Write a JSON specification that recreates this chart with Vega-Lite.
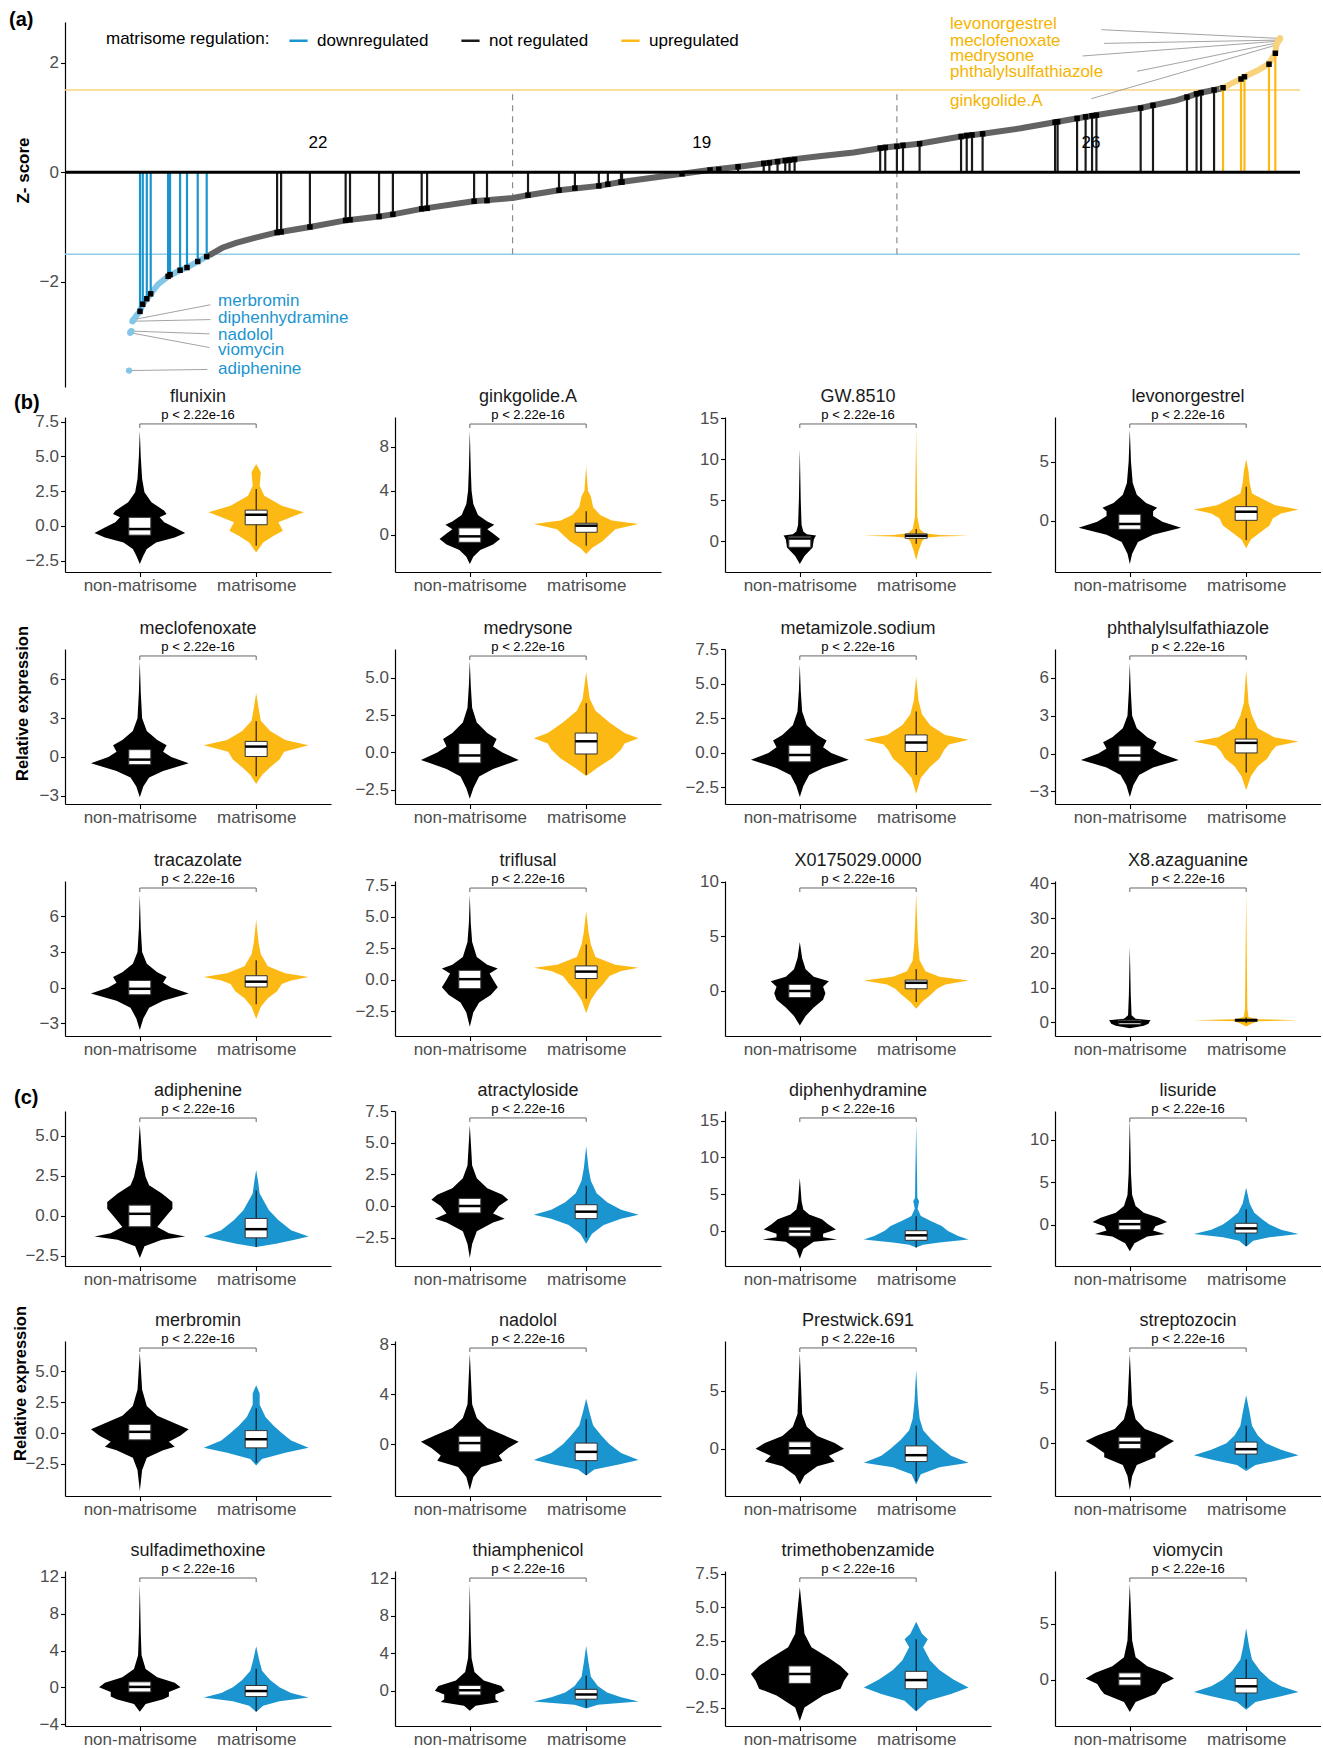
{
"$schema":"https://vega.github.io/schema/vega-lite/v6.json",
"padding":{"left":9,"top":10,"right":0,"bottom":0},
"config":{
 "font":"Liberation Sans",
 "view":{"stroke":null,"continuousWidth":266,"continuousHeight":155},
 "axis":{"grid":false,"domainColor":"#000","domainWidth":1.2,"tickColor":"#000","tickWidth":1.1,"tickSize":4.5,"labelColor":"#4d4d4d","labelFontSize":17,"labelPadding":2,"labelOverlap":false,"titleFontSize":17,"titleFontWeight":"bold","titleColor":"#000"},
 "axisX":{"labelPadding":1},
 "axisY":{"tickCount":10},
 "bar":{"width":22,"fill":"#fff","stroke":"#333","strokeWidth":1},
 "tick":{"size":22,"thickness":2.5,"color":"#000","opacity":1},
 "rule":{"color":"#000"},
 "text":{"fontSize":13,"baseline":"bottom","dy":-2,"color":"#000"},
 "area":{"opacity":1}
},
"datasets":{
"hits":[{"r":10.5,"z":-2.54,"reg":"downregulated"},{"r":12.9,"z":-2.41,"reg":"downregulated"},{"r":16.4,"z":-2.31,"reg":"downregulated"},{"r":19.8,"z":-2.22,"reg":"downregulated"},{"r":34.9,"z":-1.9,"reg":"downregulated"},{"r":36.6,"z":-1.87,"reg":"downregulated"},{"r":45.3,"z":-1.79,"reg":"downregulated"},{"r":51.3,"z":-1.74,"reg":"downregulated"},{"r":60.6,"z":-1.63,"reg":"downregulated"},{"r":68.4,"z":-1.54,"reg":"downregulated"},
{"r":129.5,"z":-1.1,"reg":"not regulated"},{"r":133,"z":-1.09,"reg":"not regulated"},{"r":158,"z":-1.0,"reg":"not regulated"},{"r":189,"z":-0.88,"reg":"not regulated"},{"r":192.8,"z":-0.87,"reg":"not regulated"},{"r":218,"z":-0.81,"reg":"not regulated"},{"r":230,"z":-0.77,"reg":"not regulated"},{"r":255,"z":-0.67,"reg":"not regulated"},{"r":259.7,"z":-0.66,"reg":"not regulated"},{"r":300.5,"z":-0.53,"reg":"not regulated"},{"r":311.7,"z":-0.52,"reg":"not regulated"},
{"r":347.3,"z":-0.42,"reg":"not regulated"},{"r":374.2,"z":-0.33,"reg":"not regulated"},{"r":388,"z":-0.29,"reg":"not regulated"},{"r":408.8,"z":-0.25,"reg":"not regulated"},{"r":416.6,"z":-0.22,"reg":"not regulated"},{"r":428,"z":-0.18,"reg":"not regulated"},{"r":428.9,"z":-0.18,"reg":"not regulated"},{"r":481,"z":-0.03,"reg":"not regulated"},{"r":505.3,"z":0.04,"reg":"not regulated"},{"r":512.9,"z":0.05,"reg":"not regulated"},{"r":529.6,"z":0.1,"reg":"not regulated"},{"r":551.9,"z":0.16,"reg":"not regulated"},{"r":556.8,"z":0.17,"reg":"not regulated"},{"r":563.9,"z":0.19,"reg":"not regulated"},{"r":570.6,"z":0.21,"reg":"not regulated"},{"r":574.3,"z":0.22,"reg":"not regulated"},{"r":578.7,"z":0.23,"reg":"not regulated"},{"r":653,"z":0.44,"reg":"not regulated"},{"r":657.4,"z":0.45,"reg":"not regulated"},
{"r":667.5,"z":0.47,"reg":"not regulated"},{"r":672.8,"z":0.49,"reg":"not regulated"},{"r":687.2,"z":0.52,"reg":"not regulated"},{"r":723.2,"z":0.65,"reg":"not regulated"},{"r":728.1,"z":0.67,"reg":"not regulated"},{"r":732.7,"z":0.68,"reg":"not regulated"},{"r":741.9,"z":0.7,"reg":"not regulated"},{"r":804.8,"z":0.91,"reg":"not regulated"},{"r":807,"z":0.92,"reg":"not regulated"},{"r":823.9,"z":0.98,"reg":"not regulated"},{"r":831.3,"z":1.01,"reg":"not regulated"},{"r":836.9,"z":1.03,"reg":"not regulated"},{"r":840.7,"z":1.04,"reg":"not regulated"},{"r":879.1,"z":1.17,"reg":"not regulated"},{"r":889.8,"z":1.22,"reg":"not regulated"},{"r":919.3,"z":1.37,"reg":"not regulated"},{"r":927.6,"z":1.43,"reg":"not regulated"},{"r":931.5,"z":1.45,"reg":"not regulated"},{"r":942.8,"z":1.5,"reg":"not regulated"},
{"r":950.6,"z":1.54,"reg":"upregulated"},{"r":966.2,"z":1.7,"reg":"upregulated"},{"r":969.2,"z":1.74,"reg":"upregulated"},{"r":990.5,"z":1.97,"reg":"upregulated"},{"r":996,"z":2.17,"reg":"upregulated"}],
"curve":[{"r":5,"z":-2.69,"s":"d"},{"r":8,"z":-2.6,"s":"d"},{"r":10.5,"z":-2.54,"s":"d"},{"r":12.9,"z":-2.41,"s":"d"},{"r":16.4,"z":-2.31,"s":"d"},{"r":19.8,"z":-2.22,"s":"d"},{"r":26,"z":-2.05,"s":"d"},{"r":34.9,"z":-1.9,"s":"d"},{"r":45.3,"z":-1.79,"s":"d"},{"r":51.3,"z":-1.74,"s":"d"},{"r":60.6,"z":-1.63,"s":"d"},{"r":68.4,"z":-1.54,"s":"d"},{"r":72,"z":-1.5,"s":"d"},
{"r":72,"z":-1.5,"s":"m"},{"r":82,"z":-1.38,"s":"m"},{"r":94,"z":-1.29,"s":"m"},{"r":110,"z":-1.2,"s":"m"},{"r":129.5,"z":-1.1,"s":"m"},{"r":158,"z":-1.0,"s":"m"},{"r":189,"z":-0.88,"s":"m"},{"r":218,"z":-0.81,"s":"m"},{"r":230,"z":-0.77,"s":"m"},{"r":255,"z":-0.67,"s":"m"},{"r":300,"z":-0.53,"s":"m"},{"r":334,"z":-0.47,"s":"m"},{"r":347,"z":-0.42,"s":"m"},{"r":374,"z":-0.33,"s":"m"},{"r":409,"z":-0.25,"s":"m"},{"r":428,"z":-0.18,"s":"m"},{"r":481,"z":-0.03,"s":"m"},{"r":505,"z":0.04,"s":"m"},{"r":530,"z":0.1,"s":"m"},{"r":552,"z":0.16,"s":"m"},{"r":571,"z":0.22,"s":"m"},{"r":600,"z":0.29,"s":"m"},{"r":630,"z":0.36,"s":"m"},{"r":657,"z":0.45,"s":"m"},{"r":687,"z":0.52,"s":"m"},{"r":723,"z":0.65,"s":"m"},{"r":742,"z":0.7,"s":"m"},{"r":775,"z":0.8,"s":"m"},{"r":807,"z":0.92,"s":"m"},{"r":837,"z":1.03,"s":"m"},{"r":879,"z":1.17,"s":"m"},{"r":890,"z":1.22,"s":"m"},{"r":910,"z":1.31,"s":"m"},{"r":919,"z":1.37,"s":"m"},{"r":931,"z":1.45,"s":"m"},{"r":943,"z":1.5,"s":"m"},{"r":950,"z":1.53,"s":"m"},
{"r":950,"z":1.53,"s":"u"},{"r":958,"z":1.62,"s":"u"},{"r":966,"z":1.7,"s":"u"},{"r":969,"z":1.74,"s":"u"},{"r":980,"z":1.85,"s":"u"},{"r":990,"z":1.97,"s":"u"},{"r":996,"z":2.17,"s":"u"},{"r":996.8,"z":2.32,"s":"u"},{"r":997.6,"z":2.36,"s":"u"},{"r":998.4,"z":2.39,"s":"u"},{"r":999.2,"z":2.41,"s":"u"},{"r":1000,"z":2.44,"s":"u"}],
"lab":[{"name":"merbromin","s":"d","r":5,"z":-2.69,"lr":78.3,"lz":-2.35,"cr":71.6,"cz":-2.42},{"name":"diphenhydramine","s":"d","r":4,"z":-2.72,"lr":78.3,"lz":-2.66,"cr":71.6,"cz":-2.69},{"name":"nadolol","s":"d","r":3,"z":-2.9,"lr":78.3,"lz":-2.97,"cr":70.8,"cz":-2.95},{"name":"viomycin","s":"d","r":2,"z":-2.93,"lr":78.3,"lz":-3.25,"cr":70.8,"cz":-3.2},{"name":"adiphenine","s":"d","r":1,"z":-3.62,"lr":78.3,"lz":-3.6,"cr":69,"cz":-3.6},
{"name":"levonorgestrel","s":"u","r":1000,"z":2.44,"lr":713.6,"lz":2.7,"cr":845,"cz":2.6},{"name":"meclofenoxate","s":"u","r":999.2,"z":2.41,"lr":713.6,"lz":2.4,"cr":847.3,"cz":2.35},{"name":"medrysone","s":"u","r":998.4,"z":2.39,"lr":713.6,"lz":2.12,"cr":828.7,"cz":2.12},{"name":"phthalylsulfathiazole","s":"u","r":997.6,"z":2.36,"lr":713.6,"lz":1.83,"cr":875.9,"cz":1.84},{"name":"ginkgolide.A","s":"u","r":996.8,"z":2.32,"lr":713.6,"lz":1.3,"cr":836.2,"cz":1.34}],
"seg":[{"r":333.9},{"r":667.5}],
"thr":[{"z":1.5,"k":"u"},{"z":-1.5,"k":"d"}],
"cnt":[{"r":165,"z":0.53,"n":"22"},{"r":498,"z":0.53,"n":"19"},{"r":836,"z":0.53,"n":"26"}],
"v_fl":[{"g":1,"y":-2.74,"w":0},{"g":1,"y":-2.14,"w":0.03},{"g":1,"y":-1.66,"w":0.06},{"g":1,"y":-1.18,"w":0.14},{"g":1,"y":-0.82,"w":0.3},{"g":1,"y":-0.51,"w":0.39},{"g":1,"y":-0.1,"w":0.3},{"g":1,"y":0.26,"w":0.21},{"g":1,"y":0.62,"w":0.17},{"g":1,"y":0.86,"w":0.23},{"g":1,"y":1.1,"w":0.21},{"g":1,"y":1.7,"w":0.1},{"g":1,"y":2.42,"w":0.04},{"g":1,"y":3.38,"w":0.02},{"g":1,"y":5,"w":0.008},{"g":1,"y":6.85,"w":0},{"g":2,"y":-1.9,"w":0},{"g":2,"y":-1.18,"w":0.06},{"g":2,"y":-0.7,"w":0.15},{"g":2,"y":-0.34,"w":0.23},{"g":2,"y":0.26,"w":0.19},{"g":2,"y":0.74,"w":0.33},{"g":2,"y":0.98,"w":0.41},{"g":2,"y":1.46,"w":0.22},{"g":2,"y":2.18,"w":0.07},{"g":2,"y":2.9,"w":0.03},{"g":2,"y":3.86,"w":0.04},{"g":2,"y":4.46,"w":0}],
"b_fl":[{"g":1,"q1":-0.66,"m":-0.22,"q3":0.62,"lo":-2.3,"hi":2.4},{"g":2,"q1":0.09,"m":0.81,"q3":1.14,"lo":-1.42,"hi":2.66}],
"v_gk":[{"g":1,"y":-2.67,"w":0},{"g":1,"y":-2.0,"w":0.03},{"g":1,"y":-1.4,"w":0.09},{"g":1,"y":-0.9,"w":0.2},{"g":1,"y":-0.4,"w":0.26},{"g":1,"y":0.1,"w":0.2},{"g":1,"y":0.5,"w":0.15},{"g":1,"y":0.9,"w":0.21},{"g":1,"y":1.2,"w":0.15},{"g":1,"y":1.8,"w":0.07},{"g":1,"y":2.8,"w":0.03},{"g":1,"y":4,"w":0.015},{"g":1,"y":6,"w":0.008},{"g":1,"y":9.45,"w":0},{"g":2,"y":-1.76,"w":0},{"g":2,"y":-1.2,"w":0.05},{"g":2,"y":-0.6,"w":0.14},{"g":2,"y":0,"w":0.2},{"g":2,"y":0.5,"w":0.25},{"g":2,"y":0.98,"w":0.45},{"g":2,"y":1.3,"w":0.22},{"g":2,"y":1.8,"w":0.12},{"g":2,"y":2.5,"w":0.06},{"g":2,"y":3.5,"w":0.04},{"g":2,"y":4,"w":0.015},{"g":2,"y":6.2,"w":0}],
"b_gk":[{"g":1,"q1":-0.69,"m":-0.15,"q3":0.61,"lo":-2.3,"hi":2.4},{"g":2,"q1":0.22,"m":0.82,"q3":1.04,"lo":-1.0,"hi":2.13}],
"v_gw":[{"g":1,"y":-2.77,"w":0},{"g":1,"y":-1.8,"w":0.04},{"g":1,"y":-0.75,"w":0.11},{"g":1,"y":0.2,"w":0.12},{"g":1,"y":0.5,"w":0.13},{"g":1,"y":0.7,"w":0.14},{"g":1,"y":0.85,"w":0.06},{"g":1,"y":1.2,"w":0.03},{"g":1,"y":2,"w":0.015},{"g":1,"y":5,"w":0.008},{"g":1,"y":11.25,"w":0},{"g":2,"y":-2.3,"w":0},{"g":2,"y":-1.2,"w":0.02},{"g":2,"y":0,"w":0.05},{"g":2,"y":0.45,"w":0.08},{"g":2,"y":0.6,"w":0.2},{"g":2,"y":0.68,"w":0.45},{"g":2,"y":0.76,"w":0.2},{"g":2,"y":1.0,"w":0.07},{"g":2,"y":1.5,"w":0.03},{"g":2,"y":3,"w":0.01},{"g":2,"y":13.7,"w":0}],
"b_gw":[{"g":1,"q1":-0.73,"m":0.35,"q3":0.6,"lo":-2.5,"hi":1.5},{"g":2,"q1":0.37,"m":0.68,"q3":0.9,"lo":-0.3,"hi":1.5}],
"v_lv":[{"g":1,"y":-3.67,"w":0},{"g":1,"y":-2.8,"w":0.02},{"g":1,"y":-1.8,"w":0.07},{"g":1,"y":-1.2,"w":0.2},{"g":1,"y":-0.6,"w":0.44},{"g":1,"y":-0.1,"w":0.28},{"g":1,"y":0.4,"w":0.2},{"g":1,"y":0.8,"w":0.2},{"g":1,"y":1.1,"w":0.235},{"g":1,"y":1.5,"w":0.14},{"g":1,"y":2.2,"w":0.06},{"g":1,"y":3.2,"w":0.025},{"g":1,"y":5,"w":0.01},{"g":1,"y":7.71,"w":0},{"g":2,"y":-2.34,"w":0},{"g":2,"y":-1.6,"w":0.04},{"g":2,"y":-1.0,"w":0.12},{"g":2,"y":-0.4,"w":0.2},{"g":2,"y":0.2,"w":0.23},{"g":2,"y":0.6,"w":0.3},{"g":2,"y":0.95,"w":0.45},{"g":2,"y":1.3,"w":0.25},{"g":2,"y":1.8,"w":0.15},{"g":2,"y":2.3,"w":0.05},{"g":2,"y":3.2,"w":0.03},{"g":2,"y":4.2,"w":0.02},{"g":2,"y":5.2,"w":0}],
"b_lv":[{"g":1,"q1":-0.73,"m":-0.28,"q3":0.54,"lo":-2.6,"hi":2.4},{"g":2,"q1":0.03,"m":0.76,"q3":1.19,"lo":-1.64,"hi":2.88}],
"v_mc":[{"g":1,"y":-3.12,"w":0},{"g":1,"y":-2.3,"w":0.03},{"g":1,"y":-1.6,"w":0.08},{"g":1,"y":-1.1,"w":0.2},{"g":1,"y":-0.5,"w":0.42},{"g":1,"y":0,"w":0.27},{"g":1,"y":0.4,"w":0.2},{"g":1,"y":0.9,"w":0.23},{"g":1,"y":1.3,"w":0.15},{"g":1,"y":2.0,"w":0.06},{"g":1,"y":3.0,"w":0.02},{"g":1,"y":5,"w":0.008},{"g":1,"y":7.43,"w":0},{"g":2,"y":-2.1,"w":0},{"g":2,"y":-1.4,"w":0.05},{"g":2,"y":-0.8,"w":0.12},{"g":2,"y":-0.2,"w":0.2},{"g":2,"y":0.4,"w":0.24},{"g":2,"y":0.9,"w":0.45},{"g":2,"y":1.3,"w":0.25},{"g":2,"y":2.0,"w":0.12},{"g":2,"y":2.8,"w":0.04},{"g":2,"y":3.8,"w":0.02},{"g":2,"y":4.96,"w":0}],
"b_mc":[{"g":1,"q1":-0.6,"m":-0.21,"q3":0.56,"lo":-2.5,"hi":2.3},{"g":2,"q1":0.03,"m":0.8,"q3":1.2,"lo":-1.5,"hi":2.77}],
"v_md":[{"g":1,"y":-3.1,"w":0},{"g":1,"y":-2.4,"w":0.03},{"g":1,"y":-1.6,"w":0.08},{"g":1,"y":-1.1,"w":0.2},{"g":1,"y":-0.5,"w":0.42},{"g":1,"y":0,"w":0.28},{"g":1,"y":0.4,"w":0.2},{"g":1,"y":0.9,"w":0.23},{"g":1,"y":1.3,"w":0.15},{"g":1,"y":2,"w":0.06},{"g":1,"y":3,"w":0.02},{"g":1,"y":4.5,"w":0.008},{"g":1,"y":6.12,"w":0},{"g":2,"y":-1.57,"w":0},{"g":2,"y":-1.0,"w":0.1},{"g":2,"y":-0.4,"w":0.22},{"g":2,"y":0.2,"w":0.3},{"g":2,"y":0.6,"w":0.33},{"g":2,"y":0.95,"w":0.45},{"g":2,"y":1.3,"w":0.33},{"g":2,"y":2.0,"w":0.2},{"g":2,"y":2.8,"w":0.08},{"g":2,"y":3.6,"w":0.03},{"g":2,"y":5.39,"w":0}],
"b_md":[{"g":1,"q1":-0.7,"m":-0.2,"q3":0.6,"lo":-2.4,"hi":2.2},{"g":2,"q1":-0.1,"m":0.75,"q3":1.3,"lo":-1.5,"hi":3.3}],
"v_mz":[{"g":1,"y":-3.2,"w":0},{"g":1,"y":-2.4,"w":0.03},{"g":1,"y":-1.6,"w":0.08},{"g":1,"y":-1.1,"w":0.2},{"g":1,"y":-0.5,"w":0.42},{"g":1,"y":0,"w":0.27},{"g":1,"y":0.4,"w":0.2},{"g":1,"y":0.9,"w":0.23},{"g":1,"y":1.3,"w":0.15},{"g":1,"y":2,"w":0.06},{"g":1,"y":3,"w":0.02},{"g":1,"y":4.5,"w":0.008},{"g":1,"y":6.42,"w":0},{"g":2,"y":-2.96,"w":0},{"g":2,"y":-1.8,"w":0.04},{"g":2,"y":-1.0,"w":0.12},{"g":2,"y":-0.4,"w":0.2},{"g":2,"y":0.2,"w":0.24},{"g":2,"y":0.6,"w":0.28},{"g":2,"y":0.95,"w":0.45},{"g":2,"y":1.3,"w":0.25},{"g":2,"y":2.0,"w":0.12},{"g":2,"y":2.8,"w":0.05},{"g":2,"y":3.8,"w":0.02},{"g":2,"y":5.52,"w":0}],
"b_mz":[{"g":1,"q1":-0.65,"m":-0.15,"q3":0.55,"lo":-2.4,"hi":2.2},{"g":2,"q1":0.1,"m":0.75,"q3":1.3,"lo":-1.6,"hi":3.0}],
"v_ph":[{"g":1,"y":-3.44,"w":0},{"g":1,"y":-2.5,"w":0.03},{"g":1,"y":-1.7,"w":0.08},{"g":1,"y":-1.1,"w":0.2},{"g":1,"y":-0.5,"w":0.42},{"g":1,"y":0,"w":0.27},{"g":1,"y":0.4,"w":0.2},{"g":1,"y":0.9,"w":0.23},{"g":1,"y":1.3,"w":0.15},{"g":1,"y":2,"w":0.06},{"g":1,"y":3,"w":0.02},{"g":1,"y":5,"w":0.008},{"g":1,"y":7.15,"w":0},{"g":2,"y":-2.9,"w":0},{"g":2,"y":-1.8,"w":0.04},{"g":2,"y":-1.0,"w":0.1},{"g":2,"y":-0.4,"w":0.18},{"g":2,"y":0.2,"w":0.22},{"g":2,"y":0.6,"w":0.26},{"g":2,"y":0.95,"w":0.45},{"g":2,"y":1.3,"w":0.24},{"g":2,"y":2.0,"w":0.1},{"g":2,"y":3.0,"w":0.05},{"g":2,"y":4.0,"w":0.02},{"g":2,"y":6.62,"w":0}],
"b_ph":[{"g":1,"q1":-0.6,"m":-0.15,"q3":0.6,"lo":-2.4,"hi":2.3},{"g":2,"q1":0.05,"m":0.85,"q3":1.15,"lo":-1.5,"hi":2.8}],
"v_tr":[{"g":1,"y":-3.57,"w":0},{"g":1,"y":-2.6,"w":0.03},{"g":1,"y":-1.7,"w":0.08},{"g":1,"y":-1.1,"w":0.2},{"g":1,"y":-0.5,"w":0.42},{"g":1,"y":0,"w":0.27},{"g":1,"y":0.4,"w":0.2},{"g":1,"y":0.9,"w":0.23},{"g":1,"y":1.3,"w":0.15},{"g":1,"y":2,"w":0.06},{"g":1,"y":3,"w":0.02},{"g":1,"y":5,"w":0.008},{"g":1,"y":7.79,"w":0},{"g":2,"y":-2.63,"w":0},{"g":2,"y":-1.6,"w":0.04},{"g":2,"y":-0.9,"w":0.1},{"g":2,"y":-0.3,"w":0.18},{"g":2,"y":0.3,"w":0.22},{"g":2,"y":0.6,"w":0.3},{"g":2,"y":0.9,"w":0.45},{"g":2,"y":1.2,"w":0.25},{"g":2,"y":1.8,"w":0.1},{"g":2,"y":2.8,"w":0.04},{"g":2,"y":3.8,"w":0.02},{"g":2,"y":5.71,"w":0}],
"b_tr":[{"g":1,"q1":-0.6,"m":-0.1,"q3":0.6,"lo":-2.4,"hi":2.3},{"g":2,"q1":0.05,"m":0.5,"q3":1.0,"lo":-1.4,"hi":2.3}],
"v_tf":[{"g":1,"y":-3.72,"w":0},{"g":1,"y":-2.6,"w":0.03},{"g":1,"y":-1.8,"w":0.08},{"g":1,"y":-1.2,"w":0.18},{"g":1,"y":-0.6,"w":0.24},{"g":1,"y":0,"w":0.2},{"g":1,"y":0.5,"w":0.17},{"g":1,"y":0.9,"w":0.24},{"g":1,"y":1.2,"w":0.15},{"g":1,"y":1.8,"w":0.06},{"g":1,"y":3,"w":0.02},{"g":1,"y":4.5,"w":0.008},{"g":1,"y":6.73,"w":0},{"g":2,"y":-2.65,"w":0},{"g":2,"y":-1.6,"w":0.04},{"g":2,"y":-0.9,"w":0.09},{"g":2,"y":-0.3,"w":0.15},{"g":2,"y":0.3,"w":0.2},{"g":2,"y":0.7,"w":0.3},{"g":2,"y":0.95,"w":0.45},{"g":2,"y":1.2,"w":0.25},{"g":2,"y":1.8,"w":0.08},{"g":2,"y":2.8,"w":0.04},{"g":2,"y":3.8,"w":0.02},{"g":2,"y":5.48,"w":0}],
"b_tf":[{"g":1,"q1":-0.7,"m":0.05,"q3":0.75,"lo":-2.5,"hi":2.4},{"g":2,"q1":0.1,"m":0.65,"q3":1.1,"lo":-1.5,"hi":2.8}],
"v_x0":[{"g":1,"y":-3.17,"w":0},{"g":1,"y":-2.3,"w":0.05},{"g":1,"y":-1.5,"w":0.12},{"g":1,"y":-0.8,"w":0.2},{"g":1,"y":-0.2,"w":0.22},{"g":1,"y":0.4,"w":0.2},{"g":1,"y":0.9,"w":0.25},{"g":1,"y":1.3,"w":0.12},{"g":1,"y":2,"w":0.05},{"g":1,"y":3,"w":0.02},{"g":1,"y":4.49,"w":0},{"g":2,"y":-1.63,"w":0},{"g":2,"y":-1.0,"w":0.05},{"g":2,"y":-0.4,"w":0.12},{"g":2,"y":0.2,"w":0.18},{"g":2,"y":0.6,"w":0.25},{"g":2,"y":0.95,"w":0.45},{"g":2,"y":1.3,"w":0.2},{"g":2,"y":1.8,"w":0.08},{"g":2,"y":2.8,"w":0.03},{"g":2,"y":4.5,"w":0.015},{"g":2,"y":8.88,"w":0}],
"b_x0":[{"g":1,"q1":-0.6,"m":0,"q3":0.6,"lo":-2.4,"hi":2.0},{"g":2,"q1":0.2,"m":0.75,"q3":1.0,"lo":-1.0,"hi":2.0}],
"v_x8":[{"g":1,"y":-1.7,"w":0},{"g":1,"y":-1.0,"w":0.12},{"g":1,"y":-0.4,"w":0.16},{"g":1,"y":0.2,"w":0.17},{"g":1,"y":0.6,"w":0.18},{"g":1,"y":1.0,"w":0.05},{"g":1,"y":2,"w":0.015},{"g":1,"y":8,"w":0.008},{"g":1,"y":21.8,"w":0},{"g":2,"y":-1.2,"w":0},{"g":2,"y":-0.5,"w":0.04},{"g":2,"y":0.3,"w":0.1},{"g":2,"y":0.6,"w":0.45},{"g":2,"y":0.9,"w":0.1},{"g":2,"y":1.5,"w":0.02},{"g":2,"y":4,"w":0.01},{"g":2,"y":36.9,"w":0}],
"b_x8":[{"g":1,"q1":-0.6,"m":0.1,"q3":0.6,"lo":-1.5,"hi":1.2},{"g":2,"q1":0.3,"m":0.6,"q3":0.9,"lo":-0.2,"hi":1.4}],
"v_ad":[{"g":1,"y":-2.64,"w":0},{"g":1,"y":-1.9,"w":0.04},{"g":1,"y":-1.5,"w":0.19},{"g":1,"y":-1.29,"w":0.39},{"g":1,"y":-1.1,"w":0.25},{"g":1,"y":-0.7,"w":0.15},{"g":1,"y":-0.08,"w":0.22},{"g":1,"y":0.44,"w":0.28},{"g":1,"y":0.86,"w":0.28},{"g":1,"y":1.38,"w":0.19},{"g":1,"y":1.9,"w":0.08},{"g":1,"y":2.42,"w":0.05},{"g":1,"y":3.5,"w":0.02},{"g":1,"y":5.69,"w":0},{"g":2,"y":-1.96,"w":0},{"g":2,"y":-1.75,"w":0.17},{"g":2,"y":-1.5,"w":0.33},{"g":2,"y":-1.29,"w":0.45},{"g":2,"y":-0.9,"w":0.3},{"g":2,"y":-0.27,"w":0.19},{"g":2,"y":0.34,"w":0.11},{"g":2,"y":1.38,"w":0.03},{"g":2,"y":2.2,"w":0.015},{"g":2,"y":2.85,"w":0}],
"b_ad":[{"g":1,"q1":-0.69,"m":0.12,"q3":0.66,"lo":-1.9,"hi":2.0},{"g":2,"q1":-1.38,"m":-0.84,"q3":-0.17,"lo":-1.96,"hi":1.58}],
"v_at":[{"g":1,"y":-4.12,"w":0},{"g":1,"y":-3,"w":0.02},{"g":1,"y":-2,"w":0.06},{"g":1,"y":-1.3,"w":0.2},{"g":1,"y":-1.0,"w":0.3},{"g":1,"y":-0.6,"w":0.2},{"g":1,"y":0,"w":0.25},{"g":1,"y":0.5,"w":0.33},{"g":1,"y":0.9,"w":0.28},{"g":1,"y":1.4,"w":0.15},{"g":1,"y":2.2,"w":0.06},{"g":1,"y":3.2,"w":0.02},{"g":1,"y":6.4,"w":0},{"g":2,"y":-2.99,"w":0},{"g":2,"y":-2.2,"w":0.05},{"g":2,"y":-1.5,"w":0.15},{"g":2,"y":-1.0,"w":0.3},{"g":2,"y":-0.7,"w":0.45},{"g":2,"y":-0.3,"w":0.3},{"g":2,"y":0.3,"w":0.18},{"g":2,"y":1.0,"w":0.09},{"g":2,"y":2.0,"w":0.04},{"g":2,"y":3.0,"w":0.02},{"g":2,"y":4.73,"w":0}],
"b_at":[{"g":1,"q1":-0.55,"m":0,"q3":0.6,"lo":-2.5,"hi":2.3},{"g":2,"q1":-1.0,"m":-0.45,"q3":0.1,"lo":-2.5,"hi":1.6}],
"v_dp":[{"g":1,"y":-3.82,"w":0},{"g":1,"y":-2.5,"w":0.03},{"g":1,"y":-1.5,"w":0.12},{"g":1,"y":-1.2,"w":0.32},{"g":1,"y":-0.9,"w":0.2},{"g":1,"y":-0.4,"w":0.2},{"g":1,"y":0.18,"w":0.31},{"g":1,"y":0.9,"w":0.24},{"g":1,"y":1.55,"w":0.19},{"g":1,"y":2.2,"w":0.08},{"g":1,"y":2.9,"w":0.03},{"g":1,"y":4,"w":0.015},{"g":1,"y":7.19,"w":0},{"g":2,"y":-2.3,"w":0},{"g":2,"y":-1.9,"w":0.06},{"g":2,"y":-1.6,"w":0.2},{"g":2,"y":-1.2,"w":0.45},{"g":2,"y":-0.73,"w":0.36},{"g":2,"y":0,"w":0.27},{"g":2,"y":0.63,"w":0.22},{"g":2,"y":1.3,"w":0.13},{"g":2,"y":2.0,"w":0.04},{"g":2,"y":3,"w":0.012},{"g":2,"y":4,"w":0.025},{"g":2,"y":4.5,"w":0.01},{"g":2,"y":7,"w":0.008},{"g":2,"y":14.5,"w":0}],
"b_dp":[{"g":1,"q1":-0.76,"m":-0.12,"q3":0.5,"lo":-2.5,"hi":2.0},{"g":2,"q1":-1.31,"m":-0.63,"q3":0,"lo":-2.3,"hi":1.98}],
"v_ls":[{"g":1,"y":-3.15,"w":0},{"g":1,"y":-2.2,"w":0.04},{"g":1,"y":-1.4,"w":0.15},{"g":1,"y":-1.1,"w":0.3},{"g":1,"y":-0.7,"w":0.2},{"g":1,"y":-0.2,"w":0.22},{"g":1,"y":0.3,"w":0.32},{"g":1,"y":0.8,"w":0.25},{"g":1,"y":1.4,"w":0.12},{"g":1,"y":2.2,"w":0.05},{"g":1,"y":3.5,"w":0.02},{"g":1,"y":6,"w":0.01},{"g":1,"y":12.5,"w":0},{"g":2,"y":-2.63,"w":0},{"g":2,"y":-1.9,"w":0.06},{"g":2,"y":-1.5,"w":0.2},{"g":2,"y":-1.1,"w":0.45},{"g":2,"y":-0.6,"w":0.3},{"g":2,"y":0,"w":0.2},{"g":2,"y":0.6,"w":0.14},{"g":2,"y":1.4,"w":0.07},{"g":2,"y":2.5,"w":0.03},{"g":2,"y":4.34,"w":0}],
"b_ls":[{"g":1,"q1":-0.6,"m":0.05,"q3":0.6,"lo":-2.3,"hi":2.2},{"g":2,"q1":-1.0,"m":-0.45,"q3":0.15,"lo":-2.5,"hi":1.8}],
"v_mb":[{"g":1,"y":-4.69,"w":0},{"g":1,"y":-3,"w":0.02},{"g":1,"y":-2,"w":0.06},{"g":1,"y":-1.4,"w":0.2},{"g":1,"y":-1.1,"w":0.3},{"g":1,"y":-0.7,"w":0.25},{"g":1,"y":-0.2,"w":0.35},{"g":1,"y":0.3,"w":0.42},{"g":1,"y":0.8,"w":0.3},{"g":1,"y":1.4,"w":0.15},{"g":1,"y":2.2,"w":0.06},{"g":1,"y":3.5,"w":0.02},{"g":1,"y":6.5,"w":0},{"g":2,"y":-2.62,"w":0},{"g":2,"y":-2.1,"w":0.05},{"g":2,"y":-1.6,"w":0.25},{"g":2,"y":-1.2,"w":0.45},{"g":2,"y":-0.6,"w":0.3},{"g":2,"y":0,"w":0.22},{"g":2,"y":0.6,"w":0.15},{"g":2,"y":1.3,"w":0.08},{"g":2,"y":2.3,"w":0.03},{"g":2,"y":3.2,"w":0.03},{"g":2,"y":3.88,"w":0}],
"b_mb":[{"g":1,"q1":-0.55,"m":0.1,"q3":0.7,"lo":-2.3,"hi":2.4},{"g":2,"q1":-1.2,"m":-0.5,"q3":0.2,"lo":-2.4,"hi":2.0}],
"v_nd":[{"g":1,"y":-3.64,"w":0},{"g":1,"y":-2.6,"w":0.03},{"g":1,"y":-1.8,"w":0.1},{"g":1,"y":-1.3,"w":0.28},{"g":1,"y":-0.9,"w":0.25},{"g":1,"y":-0.3,"w":0.33},{"g":1,"y":0.2,"w":0.42},{"g":1,"y":0.7,"w":0.3},{"g":1,"y":1.3,"w":0.15},{"g":1,"y":2.1,"w":0.06},{"g":1,"y":3.2,"w":0.02},{"g":1,"y":7.2,"w":0},{"g":2,"y":-2.49,"w":0},{"g":2,"y":-2.0,"w":0.07},{"g":2,"y":-1.6,"w":0.28},{"g":2,"y":-1.25,"w":0.45},{"g":2,"y":-0.7,"w":0.3},{"g":2,"y":0,"w":0.2},{"g":2,"y":0.7,"w":0.13},{"g":2,"y":1.5,"w":0.06},{"g":2,"y":2.5,"w":0.03},{"g":2,"y":3.64,"w":0}],
"b_nd":[{"g":1,"q1":-0.6,"m":0.1,"q3":0.65,"lo":-2.3,"hi":2.3},{"g":2,"q1":-1.3,"m":-0.6,"q3":0.1,"lo":-2.45,"hi":2.0}],
"v_pw":[{"g":1,"y":-3.07,"w":0},{"g":1,"y":-2.3,"w":0.04},{"g":1,"y":-1.5,"w":0.15},{"g":1,"y":-1.1,"w":0.3},{"g":1,"y":-0.6,"w":0.25},{"g":1,"y":0,"w":0.38},{"g":1,"y":0.5,"w":0.3},{"g":1,"y":1.1,"w":0.15},{"g":1,"y":1.9,"w":0.06},{"g":1,"y":3,"w":0.02},{"g":1,"y":8.27,"w":0},{"g":2,"y":-3.07,"w":0},{"g":2,"y":-2.2,"w":0.04},{"g":2,"y":-1.6,"w":0.2},{"g":2,"y":-1.2,"w":0.45},{"g":2,"y":-0.6,"w":0.3},{"g":2,"y":0,"w":0.22},{"g":2,"y":0.8,"w":0.13},{"g":2,"y":1.6,"w":0.06},{"g":2,"y":2.6,"w":0.03},{"g":2,"y":4,"w":0.015},{"g":2,"y":6.83,"w":0}],
"b_pw":[{"g":1,"q1":-0.5,"m":0.05,"q3":0.6,"lo":-2.2,"hi":2.0},{"g":2,"q1":-1.1,"m":-0.55,"q3":0.25,"lo":-2.8,"hi":2.0}],
"v_sz":[{"g":1,"y":-4.29,"w":0},{"g":1,"y":-3,"w":0.02},{"g":1,"y":-2,"w":0.06},{"g":1,"y":-1.3,"w":0.22},{"g":1,"y":-0.9,"w":0.22},{"g":1,"y":-0.3,"w":0.3},{"g":1,"y":0.2,"w":0.38},{"g":1,"y":0.7,"w":0.28},{"g":1,"y":1.3,"w":0.13},{"g":1,"y":2.2,"w":0.05},{"g":1,"y":3.5,"w":0.02},{"g":1,"y":8.17,"w":0},{"g":2,"y":-2.55,"w":0},{"g":2,"y":-2.0,"w":0.08},{"g":2,"y":-1.5,"w":0.3},{"g":2,"y":-1.1,"w":0.45},{"g":2,"y":-0.6,"w":0.3},{"g":2,"y":0,"w":0.17},{"g":2,"y":0.7,"w":0.1},{"g":2,"y":1.6,"w":0.05},{"g":2,"y":2.8,"w":0.03},{"g":2,"y":4.39,"w":0}],
"b_sz":[{"g":1,"q1":-0.5,"m":0.05,"q3":0.55,"lo":-2.2,"hi":2.0},{"g":2,"q1":-1.0,"m":-0.55,"q3":0.1,"lo":-2.3,"hi":1.6}],
"v_sd":[{"g":1,"y":-2.66,"w":0},{"g":1,"y":-1.8,"w":0.05},{"g":1,"y":-1.3,"w":0.2},{"g":1,"y":-1.0,"w":0.25},{"g":1,"y":-0.5,"w":0.25},{"g":1,"y":0,"w":0.35},{"g":1,"y":0.5,"w":0.3},{"g":1,"y":1.1,"w":0.15},{"g":1,"y":2,"w":0.05},{"g":1,"y":3.5,"w":0.015},{"g":1,"y":6,"w":0.008},{"g":1,"y":11.23,"w":0},{"g":2,"y":-2.67,"w":0},{"g":2,"y":-2.0,"w":0.06},{"g":2,"y":-1.5,"w":0.2},{"g":2,"y":-1.1,"w":0.45},{"g":2,"y":-0.6,"w":0.3},{"g":2,"y":0,"w":0.2},{"g":2,"y":0.8,"w":0.12},{"g":2,"y":1.8,"w":0.05},{"g":2,"y":3,"w":0.025},{"g":2,"y":4.48,"w":0}],
"b_sd":[{"g":1,"q1":-0.5,"m":0.05,"q3":0.6,"lo":-2.3,"hi":2.0},{"g":2,"q1":-1.0,"m":-0.4,"q3":0.2,"lo":-2.6,"hi":2.0}],
"v_th":[{"g":1,"y":-2.14,"w":0},{"g":1,"y":-1.6,"w":0.05},{"g":1,"y":-1.2,"w":0.25},{"g":1,"y":-0.9,"w":0.22},{"g":1,"y":-0.4,"w":0.22},{"g":1,"y":0,"w":0.3},{"g":1,"y":0.5,"w":0.27},{"g":1,"y":1.1,"w":0.12},{"g":1,"y":2,"w":0.04},{"g":1,"y":3.5,"w":0.015},{"g":1,"y":6,"w":0.008},{"g":1,"y":11.4,"w":0},{"g":2,"y":-1.9,"w":0},{"g":2,"y":-1.5,"w":0.1},{"g":2,"y":-1.15,"w":0.45},{"g":2,"y":-0.7,"w":0.3},{"g":2,"y":-0.2,"w":0.18},{"g":2,"y":0.5,"w":0.1},{"g":2,"y":1.5,"w":0.04},{"g":2,"y":3,"w":0.02},{"g":2,"y":4.76,"w":0}],
"b_th":[{"g":1,"q1":-0.45,"m":0.05,"q3":0.55,"lo":-1.9,"hi":1.8},{"g":2,"q1":-0.9,"m":-0.4,"q3":0.15,"lo":-1.8,"hi":1.6}],
"v_tb":[{"g":1,"y":-3.5,"w":0},{"g":1,"y":-2.5,"w":0.04},{"g":1,"y":-1.6,"w":0.2},{"g":1,"y":-1.1,"w":0.35},{"g":1,"y":-0.5,"w":0.38},{"g":1,"y":0,"w":0.42},{"g":1,"y":0.6,"w":0.35},{"g":1,"y":1.2,"w":0.25},{"g":1,"y":2,"w":0.1},{"g":1,"y":3,"w":0.04},{"g":1,"y":6.5,"w":0},{"g":2,"y":-2.8,"w":0},{"g":2,"y":-2.0,"w":0.1},{"g":2,"y":-1.5,"w":0.3},{"g":2,"y":-1.0,"w":0.45},{"g":2,"y":-0.4,"w":0.32},{"g":2,"y":0.3,"w":0.2},{"g":2,"y":1.0,"w":0.12},{"g":2,"y":2.0,"w":0.06},{"g":2,"y":2.6,"w":0.1},{"g":2,"y":3.0,"w":0.05},{"g":2,"y":3.9,"w":0}],
"b_tb":[{"g":1,"q1":-0.7,"m":0,"q3":0.6,"lo":-2.5,"hi":2.4},{"g":2,"q1":-1.1,"m":-0.45,"q3":0.2,"lo":-2.7,"hi":2.6}],
"v_vi":[{"g":1,"y":-2.9,"w":0},{"g":1,"y":-2.0,"w":0.05},{"g":1,"y":-1.3,"w":0.22},{"g":1,"y":-0.9,"w":0.25},{"g":1,"y":-0.4,"w":0.28},{"g":1,"y":0.1,"w":0.38},{"g":1,"y":0.6,"w":0.3},{"g":1,"y":1.2,"w":0.15},{"g":1,"y":2,"w":0.05},{"g":1,"y":3.5,"w":0.02},{"g":1,"y":8.6,"w":0},{"g":2,"y":-2.7,"w":0},{"g":2,"y":-2.0,"w":0.08},{"g":2,"y":-1.5,"w":0.3},{"g":2,"y":-1.1,"w":0.45},{"g":2,"y":-0.6,"w":0.3},{"g":2,"y":0,"w":0.2},{"g":2,"y":0.8,"w":0.12},{"g":2,"y":1.8,"w":0.05},{"g":2,"y":3,"w":0.025},{"g":2,"y":4.6,"w":0}],
"b_vi":[{"g":1,"q1":-0.5,"m":0.1,"q3":0.6,"lo":-2.3,"hi":2.2},{"g":2,"q1":-1.2,"m":-0.6,"q3":0.1,"lo":-2.5,"hi":1.8}]
},
"spacing":1,
"vconcat":[
{"width":1235,"height":365,"data":{"name":"hits"},"layer":[
 {"data":{"name":"thr"},"mark":{"type":"rule","strokeWidth":1.5},"encoding":{"y":{"field":"z","type":"quantitative","scale":{"domain":[-3.92,2.74],"nice":false},"axis":{"values":[-2,0,2],"format":"d","titleX":-42,"titleY":148,"titleBaseline":"middle"},"title":"Z- score"},"stroke":{"condition":{"test":"datum.k=='u'","value":"#f9d37a"},"value":"#8fcde9"}}},
 {"data":{"name":"seg"},"mark":{"type":"rule","strokeDash":[6,5],"color":"#8c8c8c","strokeWidth":1.2},"encoding":{"x":{"field":"r","type":"quantitative","scale":{"domain":[-54.6,1017.4],"nice":false},"axis":null},"y":{"datum":-1.5,"type":"quantitative"},"y2":{"datum":1.5}}},
 {"data":{"name":"curve"},"mark":{"type":"line","strokeWidth":6,"strokeCap":"round"},"encoding":{"x":{"field":"r","type":"quantitative"},"y":{"field":"z","type":"quantitative"},"detail":{"field":"s","type":"nominal"},"stroke":{"condition":[{"test":"datum.s=='d'","value":"#84c6e8"},{"test":"datum.s=='u'","value":"#f8d27c"}],"value":"#636363"}}},
 {"data":{"name":"lab"},"mark":{"type":"rule","color":"#999","strokeWidth":0.9},"encoding":{"x":{"field":"r","type":"quantitative"},"y":{"field":"z","type":"quantitative"},"x2":{"field":"cr"},"y2":{"field":"cz"}}},
 {"data":{"name":"lab"},"mark":{"type":"circle","size":40,"opacity":1},"encoding":{"x":{"field":"r","type":"quantitative"},"y":{"field":"z","type":"quantitative"},"fill":{"condition":{"test":"datum.s=='d'","value":"#84c6e8"},"value":"#f8d27c"}}},
 {"data":{"name":"lab"},"mark":{"type":"text","fontSize":17,"align":"left","baseline":"middle","dy":0},"encoding":{"x":{"field":"lr","type":"quantitative"},"y":{"field":"lz","type":"quantitative"},"text":{"field":"name","type":"nominal"},"fill":{"condition":{"test":"datum.s=='d'","value":"#1b95d0"},"value":"#f5b400"}}},
 {"mark":{"type":"rule","strokeWidth":2.2},"encoding":{"x":{"field":"r","type":"quantitative"},"y":{"field":"z","type":"quantitative"},"y2":{"datum":0},"color":{"field":"reg","type":"nominal","scale":{"domain":["downregulated","not regulated","upregulated"],"range":["#1b95d0","#1a1a1a","#fcb813"]},"legend":{"title":"matrisome regulation:","orient":"none","legendX":41,"legendY":8,"direction":"horizontal","titleOrient":"left","symbolType":"stroke","symbolStrokeWidth":2.5,"symbolSize":330,"labelFontSize":17,"titleFontSize":17,"titleFontWeight":"normal","titleColor":"#000","labelColor":"#000","columnPadding":27,"labelOffset":8,"titlePadding":18}}}},
 {"mark":{"type":"square","size":30,"color":"#000","opacity":1},"encoding":{"x":{"field":"r","type":"quantitative"},"y":{"field":"z","type":"quantitative"}}},
 {"data":{"values":[{"z":0}]},"mark":{"type":"rule","strokeWidth":3,"color":"#000"},"encoding":{"y":{"field":"z","type":"quantitative"}}},
 {"data":{"name":"cnt"},"mark":{"type":"text","fontSize":17,"baseline":"middle","dy":0},"encoding":{"x":{"field":"r","type":"quantitative"},"y":{"field":"z","type":"quantitative"},"text":{"field":"n","type":"nominal"}}},
 {"data":{"values":[{"t":"(a)","x":-54.6,"y":2.74}]},"mark":{"type":"text","fontSize":20,"fontWeight":"bold","align":"left","baseline":"middle","dx":-56,"dy":-2},"encoding":{"x":{"field":"x","type":"quantitative"},"y":{"field":"y","type":"quantitative"},"text":{"field":"t","type":"nominal"}}}
]},
{"spacing":24,"vconcat":[
{"concat":[
{"data":{"name":"b_fl"},"layer":[
{"data":{"name":"v_fl"},"transform":[{"calculate":"datum.g-datum.w","as":"a"},{"calculate":"datum.g+datum.w","as":"b"}],"mark":{"type":"area","orient":"horizontal"},"encoding":{"x":{"field":"a","type":"quantitative","scale":{"domain":[0.4,2.6],"nice":false},"axis":{"values":[1,2],"labelExpr":"datum.value==1?'non-matrisome':'matrisome'"},"title":null},"x2":{"field":"b"},"y":{"field":"y","type":"quantitative","scale":{"domain":[-3.31,7.84],"nice":false},"axis":{"values":[-2.5,0,2.5,5,7.5],"format":".1f","tickCount":10},"title":null},"detail":{"field":"g","type":"nominal"},"fill":{"condition":{"test":"datum.g==2","value":"#fcb813"},"value":"#000"}}},
{"mark":"rule","encoding":{"x":{"field":"g","type":"quantitative"},"y":{"field":"lo","type":"quantitative"},"y2":{"field":"hi"}}},
{"mark":"bar","encoding":{"x":{"field":"g","type":"quantitative"},"y":{"field":"q1","type":"quantitative"},"y2":{"field":"q3"}}},
{"mark":{"type":"tick","orient":"horizontal"},"encoding":{"x":{"field":"g","type":"quantitative"},"y":{"field":"m","type":"quantitative"}}},
{"mark":{"type":"rule","color":"#666"},"encoding":{"x":{"field":"g","type":"quantitative"},"x2":{"datum":2},"y":{"datum":7.34,"type":"quantitative"}}},
{"mark":{"type":"rule","color":"#666"},"encoding":{"x":{"field":"g","type":"quantitative"},"y":{"datum":7.34,"type":"quantitative"},"y2":{"datum":7.05}}},
{"transform":[{"filter":"datum.g==1"}],"mark":{"type":"text","text":"p < 2.22e-16"},"encoding":{"x":{"datum":1.5,"type":"quantitative"},"y":{"datum":7.34,"type":"quantitative"}}},
{"transform":[{"filter":"datum.g==1"}],"mark":{"type":"text","fontSize":18,"baseline":"middle","dy":-20,"color":"#1a1a1a","text":"flunixin"},"encoding":{"x":{"datum":1.5,"type":"quantitative"},"y":{"datum":7.84,"type":"quantitative"}}},
{"data":{"values":[{"t":"(b)","x":0.4,"y":7.84}]},"mark":{"type":"text","fontSize":20,"fontWeight":"bold","align":"left","baseline":"middle","dx":-56,"dy":-14},"encoding":{"x":{"field":"x","type":"quantitative"},"y":{"field":"y","type":"quantitative"},"text":{"field":"t","type":"nominal"}}}
]},
{"data":{"name":"b_gk"},"layer":[
{"data":{"name":"v_gk"},"transform":[{"calculate":"datum.g-datum.w","as":"a"},{"calculate":"datum.g+datum.w","as":"b"}],"mark":{"type":"area","orient":"horizontal"},"encoding":{"x":{"field":"a","type":"quantitative","scale":{"domain":[0.4,2.6],"nice":false},"axis":{"values":[1,2],"labelExpr":"datum.value==1?'non-matrisome':'matrisome'"},"title":null},"x2":{"field":"b"},"y":{"field":"y","type":"quantitative","scale":{"domain":[-3.39,10.7],"nice":false},"axis":{"values":[0,4,8],"format":"d"},"title":null},"detail":{"field":"g","type":"nominal"},"fill":{"condition":{"test":"datum.g==2","value":"#fcb813"},"value":"#000"}}},
{"mark":"rule","encoding":{"x":{"field":"g","type":"quantitative"},"y":{"field":"lo","type":"quantitative"},"y2":{"field":"hi"}}},
{"mark":"bar","encoding":{"x":{"field":"g","type":"quantitative"},"y":{"field":"q1","type":"quantitative"},"y2":{"field":"q3"}}},
{"mark":{"type":"tick","orient":"horizontal"},"encoding":{"x":{"field":"g","type":"quantitative"},"y":{"field":"m","type":"quantitative"}}},
{"mark":{"type":"rule","color":"#666"},"encoding":{"x":{"field":"g","type":"quantitative"},"x2":{"datum":2},"y":{"datum":10.06,"type":"quantitative"}}},
{"mark":{"type":"rule","color":"#666"},"encoding":{"x":{"field":"g","type":"quantitative"},"y":{"datum":10.06,"type":"quantitative"},"y2":{"datum":9.7}}},
{"transform":[{"filter":"datum.g==1"}],"mark":{"type":"text","text":"p < 2.22e-16"},"encoding":{"x":{"datum":1.5,"type":"quantitative"},"y":{"datum":10.06,"type":"quantitative"}}},
{"transform":[{"filter":"datum.g==1"}],"mark":{"type":"text","fontSize":18,"baseline":"middle","dy":-20,"color":"#1a1a1a","text":"ginkgolide.A"},"encoding":{"x":{"datum":1.5,"type":"quantitative"},"y":{"datum":10.7,"type":"quantitative"}}}
]},
{"data":{"name":"b_gw"},"layer":[
{"data":{"name":"v_gw"},"transform":[{"calculate":"datum.g-datum.w","as":"a"},{"calculate":"datum.g+datum.w","as":"b"}],"mark":{"type":"area","orient":"horizontal"},"encoding":{"x":{"field":"a","type":"quantitative","scale":{"domain":[0.4,2.6],"nice":false},"axis":{"values":[1,2],"labelExpr":"datum.value==1?'non-matrisome':'matrisome'"},"title":null},"x2":{"field":"b"},"y":{"field":"y","type":"quantitative","scale":{"domain":[-3.74,15.16],"nice":false},"axis":{"values":[0,5,10,15],"format":"d","tickCount":10},"title":null},"detail":{"field":"g","type":"nominal"},"fill":{"condition":{"test":"datum.g==2","value":"#fcb813"},"value":"#000"}}},
{"mark":"rule","encoding":{"x":{"field":"g","type":"quantitative"},"y":{"field":"lo","type":"quantitative"},"y2":{"field":"hi"}}},
{"mark":"bar","encoding":{"x":{"field":"g","type":"quantitative"},"y":{"field":"q1","type":"quantitative"},"y2":{"field":"q3"}}},
{"mark":{"type":"tick","orient":"horizontal"},"encoding":{"x":{"field":"g","type":"quantitative"},"y":{"field":"m","type":"quantitative"}}},
{"mark":{"type":"rule","color":"#666"},"encoding":{"x":{"field":"g","type":"quantitative"},"x2":{"datum":2},"y":{"datum":14.31,"type":"quantitative"}}},
{"mark":{"type":"rule","color":"#666"},"encoding":{"x":{"field":"g","type":"quantitative"},"y":{"datum":14.31,"type":"quantitative"},"y2":{"datum":13.82}}},
{"transform":[{"filter":"datum.g==1"}],"mark":{"type":"text","text":"p < 2.22e-16"},"encoding":{"x":{"datum":1.5,"type":"quantitative"},"y":{"datum":14.31,"type":"quantitative"}}},
{"transform":[{"filter":"datum.g==1"}],"mark":{"type":"text","fontSize":18,"baseline":"middle","dy":-20,"color":"#1a1a1a","text":"GW.8510"},"encoding":{"x":{"datum":1.5,"type":"quantitative"},"y":{"datum":15.16,"type":"quantitative"}}}
]},
{"data":{"name":"b_lv"},"layer":[
{"data":{"name":"v_lv"},"transform":[{"calculate":"datum.g-datum.w","as":"a"},{"calculate":"datum.g+datum.w","as":"b"}],"mark":{"type":"area","orient":"horizontal"},"encoding":{"x":{"field":"a","type":"quantitative","scale":{"domain":[0.4,2.6],"nice":false},"axis":{"values":[1,2],"labelExpr":"datum.value==1?'non-matrisome':'matrisome'"},"title":null},"x2":{"field":"b"},"y":{"field":"y","type":"quantitative","scale":{"domain":[-4.35,8.79],"nice":false},"axis":{"values":[0,5],"format":"d"},"title":null},"detail":{"field":"g","type":"nominal"},"fill":{"condition":{"test":"datum.g==2","value":"#fcb813"},"value":"#000"}}},
{"mark":"rule","encoding":{"x":{"field":"g","type":"quantitative"},"y":{"field":"lo","type":"quantitative"},"y2":{"field":"hi"}}},
{"mark":"bar","encoding":{"x":{"field":"g","type":"quantitative"},"y":{"field":"q1","type":"quantitative"},"y2":{"field":"q3"}}},
{"mark":{"type":"tick","orient":"horizontal"},"encoding":{"x":{"field":"g","type":"quantitative"},"y":{"field":"m","type":"quantitative"}}},
{"mark":{"type":"rule","color":"#666"},"encoding":{"x":{"field":"g","type":"quantitative"},"x2":{"datum":2},"y":{"datum":8.2,"type":"quantitative"}}},
{"mark":{"type":"rule","color":"#666"},"encoding":{"x":{"field":"g","type":"quantitative"},"y":{"datum":8.2,"type":"quantitative"},"y2":{"datum":7.86}}},
{"transform":[{"filter":"datum.g==1"}],"mark":{"type":"text","text":"p < 2.22e-16"},"encoding":{"x":{"datum":1.5,"type":"quantitative"},"y":{"datum":8.2,"type":"quantitative"}}},
{"transform":[{"filter":"datum.g==1"}],"mark":{"type":"text","fontSize":18,"baseline":"middle","dy":-20,"color":"#1a1a1a","text":"levonorgestrel"},"encoding":{"x":{"datum":1.5,"type":"quantitative"},"y":{"datum":8.79,"type":"quantitative"}}}
]},
{"data":{"name":"b_mc"},"layer":[
{"data":{"name":"v_mc"},"transform":[{"calculate":"datum.g-datum.w","as":"a"},{"calculate":"datum.g+datum.w","as":"b"}],"mark":{"type":"area","orient":"horizontal"},"encoding":{"x":{"field":"a","type":"quantitative","scale":{"domain":[0.4,2.6],"nice":false},"axis":{"values":[1,2],"labelExpr":"datum.value==1?'non-matrisome':'matrisome'"},"title":null},"x2":{"field":"b"},"y":{"field":"y","type":"quantitative","scale":{"domain":[-3.65,8.36],"nice":false},"axis":{"values":[-3,0,3,6],"format":"d","tickCount":10,"titleX":-43,"titleY":54,"titleBaseline":"middle","titleFontSize":16.5},"title":"Relative expression"},"detail":{"field":"g","type":"nominal"},"fill":{"condition":{"test":"datum.g==2","value":"#fcb813"},"value":"#000"}}},
{"mark":"rule","encoding":{"x":{"field":"g","type":"quantitative"},"y":{"field":"lo","type":"quantitative"},"y2":{"field":"hi"}}},
{"mark":"bar","encoding":{"x":{"field":"g","type":"quantitative"},"y":{"field":"q1","type":"quantitative"},"y2":{"field":"q3"}}},
{"mark":{"type":"tick","orient":"horizontal"},"encoding":{"x":{"field":"g","type":"quantitative"},"y":{"field":"m","type":"quantitative"}}},
{"mark":{"type":"rule","color":"#666"},"encoding":{"x":{"field":"g","type":"quantitative"},"x2":{"datum":2},"y":{"datum":7.82,"type":"quantitative"}}},
{"mark":{"type":"rule","color":"#666"},"encoding":{"x":{"field":"g","type":"quantitative"},"y":{"datum":7.82,"type":"quantitative"},"y2":{"datum":7.5}}},
{"transform":[{"filter":"datum.g==1"}],"mark":{"type":"text","text":"p < 2.22e-16"},"encoding":{"x":{"datum":1.5,"type":"quantitative"},"y":{"datum":7.82,"type":"quantitative"}}},
{"transform":[{"filter":"datum.g==1"}],"mark":{"type":"text","fontSize":18,"baseline":"middle","dy":-20,"color":"#1a1a1a","text":"meclofenoxate"},"encoding":{"x":{"datum":1.5,"type":"quantitative"},"y":{"datum":8.36,"type":"quantitative"}}}
]},
{"data":{"name":"b_md"},"layer":[
{"data":{"name":"v_md"},"transform":[{"calculate":"datum.g-datum.w","as":"a"},{"calculate":"datum.g+datum.w","as":"b"}],"mark":{"type":"area","orient":"horizontal"},"encoding":{"x":{"field":"a","type":"quantitative","scale":{"domain":[0.4,2.6],"nice":false},"axis":{"values":[1,2],"labelExpr":"datum.value==1?'non-matrisome':'matrisome'"},"title":null},"x2":{"field":"b"},"y":{"field":"y","type":"quantitative","scale":{"domain":[-3.45,6.93],"nice":false},"axis":{"values":[-2.5,0,2.5,5],"format":".1f","tickCount":10},"title":null},"detail":{"field":"g","type":"nominal"},"fill":{"condition":{"test":"datum.g==2","value":"#fcb813"},"value":"#000"}}},
{"mark":"rule","encoding":{"x":{"field":"g","type":"quantitative"},"y":{"field":"lo","type":"quantitative"},"y2":{"field":"hi"}}},
{"mark":"bar","encoding":{"x":{"field":"g","type":"quantitative"},"y":{"field":"q1","type":"quantitative"},"y2":{"field":"q3"}}},
{"mark":{"type":"tick","orient":"horizontal"},"encoding":{"x":{"field":"g","type":"quantitative"},"y":{"field":"m","type":"quantitative"}}},
{"mark":{"type":"rule","color":"#666"},"encoding":{"x":{"field":"g","type":"quantitative"},"x2":{"datum":2},"y":{"datum":6.46,"type":"quantitative"}}},
{"mark":{"type":"rule","color":"#666"},"encoding":{"x":{"field":"g","type":"quantitative"},"y":{"datum":6.46,"type":"quantitative"},"y2":{"datum":6.19}}},
{"transform":[{"filter":"datum.g==1"}],"mark":{"type":"text","text":"p < 2.22e-16"},"encoding":{"x":{"datum":1.5,"type":"quantitative"},"y":{"datum":6.46,"type":"quantitative"}}},
{"transform":[{"filter":"datum.g==1"}],"mark":{"type":"text","fontSize":18,"baseline":"middle","dy":-20,"color":"#1a1a1a","text":"medrysone"},"encoding":{"x":{"datum":1.5,"type":"quantitative"},"y":{"datum":6.93,"type":"quantitative"}}}
]},
{"data":{"name":"b_mz"},"layer":[
{"data":{"name":"v_mz"},"transform":[{"calculate":"datum.g-datum.w","as":"a"},{"calculate":"datum.g+datum.w","as":"b"}],"mark":{"type":"area","orient":"horizontal"},"encoding":{"x":{"field":"a","type":"quantitative","scale":{"domain":[0.4,2.6],"nice":false},"axis":{"values":[1,2],"labelExpr":"datum.value==1?'non-matrisome':'matrisome'"},"title":null},"x2":{"field":"b"},"y":{"field":"y","type":"quantitative","scale":{"domain":[-3.7,7.52],"nice":false},"axis":{"values":[-2.5,0,2.5,5,7.5],"format":".1f","tickCount":10},"title":null},"detail":{"field":"g","type":"nominal"},"fill":{"condition":{"test":"datum.g==2","value":"#fcb813"},"value":"#000"}}},
{"mark":"rule","encoding":{"x":{"field":"g","type":"quantitative"},"y":{"field":"lo","type":"quantitative"},"y2":{"field":"hi"}}},
{"mark":"bar","encoding":{"x":{"field":"g","type":"quantitative"},"y":{"field":"q1","type":"quantitative"},"y2":{"field":"q3"}}},
{"mark":{"type":"tick","orient":"horizontal"},"encoding":{"x":{"field":"g","type":"quantitative"},"y":{"field":"m","type":"quantitative"}}},
{"mark":{"type":"rule","color":"#666"},"encoding":{"x":{"field":"g","type":"quantitative"},"x2":{"datum":2},"y":{"datum":7.02,"type":"quantitative"}}},
{"mark":{"type":"rule","color":"#666"},"encoding":{"x":{"field":"g","type":"quantitative"},"y":{"datum":7.02,"type":"quantitative"},"y2":{"datum":6.73}}},
{"transform":[{"filter":"datum.g==1"}],"mark":{"type":"text","text":"p < 2.22e-16"},"encoding":{"x":{"datum":1.5,"type":"quantitative"},"y":{"datum":7.02,"type":"quantitative"}}},
{"transform":[{"filter":"datum.g==1"}],"mark":{"type":"text","fontSize":18,"baseline":"middle","dy":-20,"color":"#1a1a1a","text":"metamizole.sodium"},"encoding":{"x":{"datum":1.5,"type":"quantitative"},"y":{"datum":7.52,"type":"quantitative"}}}
]},
{"data":{"name":"b_ph"},"layer":[
{"data":{"name":"v_ph"},"transform":[{"calculate":"datum.g-datum.w","as":"a"},{"calculate":"datum.g+datum.w","as":"b"}],"mark":{"type":"area","orient":"horizontal"},"encoding":{"x":{"field":"a","type":"quantitative","scale":{"domain":[0.4,2.6],"nice":false},"axis":{"values":[1,2],"labelExpr":"datum.value==1?'non-matrisome':'matrisome'"},"title":null},"x2":{"field":"b"},"y":{"field":"y","type":"quantitative","scale":{"domain":[-3.99,8.28],"nice":false},"axis":{"values":[-3,0,3,6],"format":"d","tickCount":10},"title":null},"detail":{"field":"g","type":"nominal"},"fill":{"condition":{"test":"datum.g==2","value":"#fcb813"},"value":"#000"}}},
{"mark":"rule","encoding":{"x":{"field":"g","type":"quantitative"},"y":{"field":"lo","type":"quantitative"},"y2":{"field":"hi"}}},
{"mark":"bar","encoding":{"x":{"field":"g","type":"quantitative"},"y":{"field":"q1","type":"quantitative"},"y2":{"field":"q3"}}},
{"mark":{"type":"tick","orient":"horizontal"},"encoding":{"x":{"field":"g","type":"quantitative"},"y":{"field":"m","type":"quantitative"}}},
{"mark":{"type":"rule","color":"#666"},"encoding":{"x":{"field":"g","type":"quantitative"},"x2":{"datum":2},"y":{"datum":7.73,"type":"quantitative"}}},
{"mark":{"type":"rule","color":"#666"},"encoding":{"x":{"field":"g","type":"quantitative"},"y":{"datum":7.73,"type":"quantitative"},"y2":{"datum":7.41}}},
{"transform":[{"filter":"datum.g==1"}],"mark":{"type":"text","text":"p < 2.22e-16"},"encoding":{"x":{"datum":1.5,"type":"quantitative"},"y":{"datum":7.73,"type":"quantitative"}}},
{"transform":[{"filter":"datum.g==1"}],"mark":{"type":"text","fontSize":18,"baseline":"middle","dy":-20,"color":"#1a1a1a","text":"phthalylsulfathiazole"},"encoding":{"x":{"datum":1.5,"type":"quantitative"},"y":{"datum":8.28,"type":"quantitative"}}}
]},
{"data":{"name":"b_tr"},"layer":[
{"data":{"name":"v_tr"},"transform":[{"calculate":"datum.g-datum.w","as":"a"},{"calculate":"datum.g+datum.w","as":"b"}],"mark":{"type":"area","orient":"horizontal"},"encoding":{"x":{"field":"a","type":"quantitative","scale":{"domain":[0.4,2.6],"nice":false},"axis":{"values":[1,2],"labelExpr":"datum.value==1?'non-matrisome':'matrisome'"},"title":null},"x2":{"field":"b"},"y":{"field":"y","type":"quantitative","scale":{"domain":[-4.07,8.97],"nice":false},"axis":{"values":[-3,0,3,6],"format":"d","tickCount":10},"title":null},"detail":{"field":"g","type":"nominal"},"fill":{"condition":{"test":"datum.g==2","value":"#fcb813"},"value":"#000"}}},
{"mark":"rule","encoding":{"x":{"field":"g","type":"quantitative"},"y":{"field":"lo","type":"quantitative"},"y2":{"field":"hi"}}},
{"mark":"bar","encoding":{"x":{"field":"g","type":"quantitative"},"y":{"field":"q1","type":"quantitative"},"y2":{"field":"q3"}}},
{"mark":{"type":"tick","orient":"horizontal"},"encoding":{"x":{"field":"g","type":"quantitative"},"y":{"field":"m","type":"quantitative"}}},
{"mark":{"type":"rule","color":"#666"},"encoding":{"x":{"field":"g","type":"quantitative"},"x2":{"datum":2},"y":{"datum":8.38,"type":"quantitative"}}},
{"mark":{"type":"rule","color":"#666"},"encoding":{"x":{"field":"g","type":"quantitative"},"y":{"datum":8.38,"type":"quantitative"},"y2":{"datum":8.04}}},
{"transform":[{"filter":"datum.g==1"}],"mark":{"type":"text","text":"p < 2.22e-16"},"encoding":{"x":{"datum":1.5,"type":"quantitative"},"y":{"datum":8.38,"type":"quantitative"}}},
{"transform":[{"filter":"datum.g==1"}],"mark":{"type":"text","fontSize":18,"baseline":"middle","dy":-20,"color":"#1a1a1a","text":"tracazolate"},"encoding":{"x":{"datum":1.5,"type":"quantitative"},"y":{"datum":8.97,"type":"quantitative"}}}
]},
{"data":{"name":"b_tf"},"layer":[
{"data":{"name":"v_tf"},"transform":[{"calculate":"datum.g-datum.w","as":"a"},{"calculate":"datum.g+datum.w","as":"b"}],"mark":{"type":"area","orient":"horizontal"},"encoding":{"x":{"field":"a","type":"quantitative","scale":{"domain":[0.4,2.6],"nice":false},"axis":{"values":[1,2],"labelExpr":"datum.value==1?'non-matrisome':'matrisome'"},"title":null},"x2":{"field":"b"},"y":{"field":"y","type":"quantitative","scale":{"domain":[-4.46,7.84],"nice":false},"axis":{"values":[-2.5,0,2.5,5,7.5],"format":".1f","tickCount":10},"title":null},"detail":{"field":"g","type":"nominal"},"fill":{"condition":{"test":"datum.g==2","value":"#fcb813"},"value":"#000"}}},
{"mark":"rule","encoding":{"x":{"field":"g","type":"quantitative"},"y":{"field":"lo","type":"quantitative"},"y2":{"field":"hi"}}},
{"mark":"bar","encoding":{"x":{"field":"g","type":"quantitative"},"y":{"field":"q1","type":"quantitative"},"y2":{"field":"q3"}}},
{"mark":{"type":"tick","orient":"horizontal"},"encoding":{"x":{"field":"g","type":"quantitative"},"y":{"field":"m","type":"quantitative"}}},
{"mark":{"type":"rule","color":"#666"},"encoding":{"x":{"field":"g","type":"quantitative"},"x2":{"datum":2},"y":{"datum":7.28,"type":"quantitative"}}},
{"mark":{"type":"rule","color":"#666"},"encoding":{"x":{"field":"g","type":"quantitative"},"y":{"datum":7.28,"type":"quantitative"},"y2":{"datum":6.96}}},
{"transform":[{"filter":"datum.g==1"}],"mark":{"type":"text","text":"p < 2.22e-16"},"encoding":{"x":{"datum":1.5,"type":"quantitative"},"y":{"datum":7.28,"type":"quantitative"}}},
{"transform":[{"filter":"datum.g==1"}],"mark":{"type":"text","fontSize":18,"baseline":"middle","dy":-20,"color":"#1a1a1a","text":"triflusal"},"encoding":{"x":{"datum":1.5,"type":"quantitative"},"y":{"datum":7.84,"type":"quantitative"}}}
]},
{"data":{"name":"b_x0"},"layer":[
{"data":{"name":"v_x0"},"transform":[{"calculate":"datum.g-datum.w","as":"a"},{"calculate":"datum.g+datum.w","as":"b"}],"mark":{"type":"area","orient":"horizontal"},"encoding":{"x":{"field":"a","type":"quantitative","scale":{"domain":[0.4,2.6],"nice":false},"axis":{"values":[1,2],"labelExpr":"datum.value==1?'non-matrisome':'matrisome'"},"title":null},"x2":{"field":"b"},"y":{"field":"y","type":"quantitative","scale":{"domain":[-4.12,10.07],"nice":false},"axis":{"values":[0,5,10],"format":"d"},"title":null},"detail":{"field":"g","type":"nominal"},"fill":{"condition":{"test":"datum.g==2","value":"#fcb813"},"value":"#000"}}},
{"mark":"rule","encoding":{"x":{"field":"g","type":"quantitative"},"y":{"field":"lo","type":"quantitative"},"y2":{"field":"hi"}}},
{"mark":"bar","encoding":{"x":{"field":"g","type":"quantitative"},"y":{"field":"q1","type":"quantitative"},"y2":{"field":"q3"}}},
{"mark":{"type":"tick","orient":"horizontal"},"encoding":{"x":{"field":"g","type":"quantitative"},"y":{"field":"m","type":"quantitative"}}},
{"mark":{"type":"rule","color":"#666"},"encoding":{"x":{"field":"g","type":"quantitative"},"x2":{"datum":2},"y":{"datum":9.43,"type":"quantitative"}}},
{"mark":{"type":"rule","color":"#666"},"encoding":{"x":{"field":"g","type":"quantitative"},"y":{"datum":9.43,"type":"quantitative"},"y2":{"datum":9.06}}},
{"transform":[{"filter":"datum.g==1"}],"mark":{"type":"text","text":"p < 2.22e-16"},"encoding":{"x":{"datum":1.5,"type":"quantitative"},"y":{"datum":9.43,"type":"quantitative"}}},
{"transform":[{"filter":"datum.g==1"}],"mark":{"type":"text","fontSize":18,"baseline":"middle","dy":-20,"color":"#1a1a1a","text":"X0175029.0000"},"encoding":{"x":{"datum":1.5,"type":"quantitative"},"y":{"datum":10.07,"type":"quantitative"}}}
]},
{"data":{"name":"b_x8"},"layer":[
{"data":{"name":"v_x8"},"transform":[{"calculate":"datum.g-datum.w","as":"a"},{"calculate":"datum.g+datum.w","as":"b"}],"mark":{"type":"area","orient":"horizontal"},"encoding":{"x":{"field":"a","type":"quantitative","scale":{"domain":[0.4,2.6],"nice":false},"axis":{"values":[1,2],"labelExpr":"datum.value==1?'non-matrisome':'matrisome'"},"title":null},"x2":{"field":"b"},"y":{"field":"y","type":"quantitative","scale":{"domain":[-3.94,40.66],"nice":false},"axis":{"values":[0,10,20,30,40],"format":"d","tickCount":10},"title":null},"detail":{"field":"g","type":"nominal"},"fill":{"condition":{"test":"datum.g==2","value":"#fcb813"},"value":"#000"}}},
{"mark":"rule","encoding":{"x":{"field":"g","type":"quantitative"},"y":{"field":"lo","type":"quantitative"},"y2":{"field":"hi"}}},
{"mark":"bar","encoding":{"x":{"field":"g","type":"quantitative"},"y":{"field":"q1","type":"quantitative"},"y2":{"field":"q3"}}},
{"mark":{"type":"tick","orient":"horizontal"},"encoding":{"x":{"field":"g","type":"quantitative"},"y":{"field":"m","type":"quantitative"}}},
{"mark":{"type":"rule","color":"#666"},"encoding":{"x":{"field":"g","type":"quantitative"},"x2":{"datum":2},"y":{"datum":38.65,"type":"quantitative"}}},
{"mark":{"type":"rule","color":"#666"},"encoding":{"x":{"field":"g","type":"quantitative"},"y":{"datum":38.65,"type":"quantitative"},"y2":{"datum":37.5}}},
{"transform":[{"filter":"datum.g==1"}],"mark":{"type":"text","text":"p < 2.22e-16"},"encoding":{"x":{"datum":1.5,"type":"quantitative"},"y":{"datum":38.65,"type":"quantitative"}}},
{"transform":[{"filter":"datum.g==1"}],"mark":{"type":"text","fontSize":18,"baseline":"middle","dy":-20,"color":"#1a1a1a","text":"X8.azaguanine"},"encoding":{"x":{"datum":1.5,"type":"quantitative"},"y":{"datum":40.66,"type":"quantitative"}}}
]}
],"columns":4,"spacing":{"row":77,"column":64},"bounds":"flush"},
{"concat":[
{"data":{"name":"b_ad"},"layer":[
{"data":{"name":"v_ad"},"transform":[{"calculate":"datum.g-datum.w","as":"a"},{"calculate":"datum.g+datum.w","as":"b"}],"mark":{"type":"area","orient":"horizontal"},"encoding":{"x":{"field":"a","type":"quantitative","scale":{"domain":[0.4,2.6],"nice":false},"axis":{"values":[1,2],"labelExpr":"datum.value==1?'non-matrisome':'matrisome'"},"title":null},"x2":{"field":"b"},"y":{"field":"y","type":"quantitative","scale":{"domain":[-3.14,6.54],"nice":false},"axis":{"values":[-2.5,0,2.5,5],"format":".1f","tickCount":10},"title":null},"detail":{"field":"g","type":"nominal"},"fill":{"condition":{"test":"datum.g==2","value":"#1b95d0"},"value":"#000"}}},
{"mark":"rule","encoding":{"x":{"field":"g","type":"quantitative"},"y":{"field":"lo","type":"quantitative"},"y2":{"field":"hi"}}},
{"mark":"bar","encoding":{"x":{"field":"g","type":"quantitative"},"y":{"field":"q1","type":"quantitative"},"y2":{"field":"q3"}}},
{"mark":{"type":"tick","orient":"horizontal"},"encoding":{"x":{"field":"g","type":"quantitative"},"y":{"field":"m","type":"quantitative"}}},
{"mark":{"type":"rule","color":"#666"},"encoding":{"x":{"field":"g","type":"quantitative"},"x2":{"datum":2},"y":{"datum":6.1,"type":"quantitative"}}},
{"mark":{"type":"rule","color":"#666"},"encoding":{"x":{"field":"g","type":"quantitative"},"y":{"datum":6.1,"type":"quantitative"},"y2":{"datum":5.85}}},
{"transform":[{"filter":"datum.g==1"}],"mark":{"type":"text","text":"p < 2.22e-16"},"encoding":{"x":{"datum":1.5,"type":"quantitative"},"y":{"datum":6.1,"type":"quantitative"}}},
{"transform":[{"filter":"datum.g==1"}],"mark":{"type":"text","fontSize":18,"baseline":"middle","dy":-20,"color":"#1a1a1a","text":"adiphenine"},"encoding":{"x":{"datum":1.5,"type":"quantitative"},"y":{"datum":6.54,"type":"quantitative"}}},
{"data":{"values":[{"t":"(c)","x":0.4,"y":6.54}]},"mark":{"type":"text","fontSize":20,"fontWeight":"bold","align":"left","baseline":"middle","dx":-56,"dy":-13},"encoding":{"x":{"field":"x","type":"quantitative"},"y":{"field":"y","type":"quantitative"},"text":{"field":"t","type":"nominal"}}}
]},
{"data":{"name":"b_at"},"layer":[
{"data":{"name":"v_at"},"transform":[{"calculate":"datum.g-datum.w","as":"a"},{"calculate":"datum.g+datum.w","as":"b"}],"mark":{"type":"area","orient":"horizontal"},"encoding":{"x":{"field":"a","type":"quantitative","scale":{"domain":[0.4,2.6],"nice":false},"axis":{"values":[1,2],"labelExpr":"datum.value==1?'non-matrisome':'matrisome'"},"title":null},"x2":{"field":"b"},"y":{"field":"y","type":"quantitative","scale":{"domain":[-4.75,7.52],"nice":false},"axis":{"values":[-2.5,0,2.5,5,7.5],"format":".1f","tickCount":10},"title":null},"detail":{"field":"g","type":"nominal"},"fill":{"condition":{"test":"datum.g==2","value":"#1b95d0"},"value":"#000"}}},
{"mark":"rule","encoding":{"x":{"field":"g","type":"quantitative"},"y":{"field":"lo","type":"quantitative"},"y2":{"field":"hi"}}},
{"mark":"bar","encoding":{"x":{"field":"g","type":"quantitative"},"y":{"field":"q1","type":"quantitative"},"y2":{"field":"q3"}}},
{"mark":{"type":"tick","orient":"horizontal"},"encoding":{"x":{"field":"g","type":"quantitative"},"y":{"field":"m","type":"quantitative"}}},
{"mark":{"type":"rule","color":"#666"},"encoding":{"x":{"field":"g","type":"quantitative"},"x2":{"datum":2},"y":{"datum":6.97,"type":"quantitative"}}},
{"mark":{"type":"rule","color":"#666"},"encoding":{"x":{"field":"g","type":"quantitative"},"y":{"datum":6.97,"type":"quantitative"},"y2":{"datum":6.66}}},
{"transform":[{"filter":"datum.g==1"}],"mark":{"type":"text","text":"p < 2.22e-16"},"encoding":{"x":{"datum":1.5,"type":"quantitative"},"y":{"datum":6.97,"type":"quantitative"}}},
{"transform":[{"filter":"datum.g==1"}],"mark":{"type":"text","fontSize":18,"baseline":"middle","dy":-20,"color":"#1a1a1a","text":"atractyloside"},"encoding":{"x":{"datum":1.5,"type":"quantitative"},"y":{"datum":7.52,"type":"quantitative"}}}
]},
{"data":{"name":"b_dp"},"layer":[
{"data":{"name":"v_dp"},"transform":[{"calculate":"datum.g-datum.w","as":"a"},{"calculate":"datum.g+datum.w","as":"b"}],"mark":{"type":"area","orient":"horizontal"},"encoding":{"x":{"field":"a","type":"quantitative","scale":{"domain":[0.4,2.6],"nice":false},"axis":{"values":[1,2],"labelExpr":"datum.value==1?'non-matrisome':'matrisome'"},"title":null},"x2":{"field":"b"},"y":{"field":"y","type":"quantitative","scale":{"domain":[-4.81,16.32],"nice":false},"axis":{"values":[0,5,10,15],"format":"d","tickCount":10},"title":null},"detail":{"field":"g","type":"nominal"},"fill":{"condition":{"test":"datum.g==2","value":"#1b95d0"},"value":"#000"}}},
{"mark":"rule","encoding":{"x":{"field":"g","type":"quantitative"},"y":{"field":"lo","type":"quantitative"},"y2":{"field":"hi"}}},
{"mark":"bar","encoding":{"x":{"field":"g","type":"quantitative"},"y":{"field":"q1","type":"quantitative"},"y2":{"field":"q3"}}},
{"mark":{"type":"tick","orient":"horizontal"},"encoding":{"x":{"field":"g","type":"quantitative"},"y":{"field":"m","type":"quantitative"}}},
{"mark":{"type":"rule","color":"#666"},"encoding":{"x":{"field":"g","type":"quantitative"},"x2":{"datum":2},"y":{"datum":15.37,"type":"quantitative"}}},
{"mark":{"type":"rule","color":"#666"},"encoding":{"x":{"field":"g","type":"quantitative"},"y":{"datum":15.37,"type":"quantitative"},"y2":{"datum":14.82}}},
{"transform":[{"filter":"datum.g==1"}],"mark":{"type":"text","text":"p < 2.22e-16"},"encoding":{"x":{"datum":1.5,"type":"quantitative"},"y":{"datum":15.37,"type":"quantitative"}}},
{"transform":[{"filter":"datum.g==1"}],"mark":{"type":"text","fontSize":18,"baseline":"middle","dy":-20,"color":"#1a1a1a","text":"diphenhydramine"},"encoding":{"x":{"datum":1.5,"type":"quantitative"},"y":{"datum":16.32,"type":"quantitative"}}}
]},
{"data":{"name":"b_ls"},"layer":[
{"data":{"name":"v_ls"},"transform":[{"calculate":"datum.g-datum.w","as":"a"},{"calculate":"datum.g+datum.w","as":"b"}],"mark":{"type":"area","orient":"horizontal"},"encoding":{"x":{"field":"a","type":"quantitative","scale":{"domain":[0.4,2.6],"nice":false},"axis":{"values":[1,2],"labelExpr":"datum.value==1?'non-matrisome':'matrisome'"},"title":null},"x2":{"field":"b"},"y":{"field":"y","type":"quantitative","scale":{"domain":[-4.89,13.41],"nice":false},"axis":{"values":[0,5,10],"format":"d"},"title":null},"detail":{"field":"g","type":"nominal"},"fill":{"condition":{"test":"datum.g==2","value":"#1b95d0"},"value":"#000"}}},
{"mark":"rule","encoding":{"x":{"field":"g","type":"quantitative"},"y":{"field":"lo","type":"quantitative"},"y2":{"field":"hi"}}},
{"mark":"bar","encoding":{"x":{"field":"g","type":"quantitative"},"y":{"field":"q1","type":"quantitative"},"y2":{"field":"q3"}}},
{"mark":{"type":"tick","orient":"horizontal"},"encoding":{"x":{"field":"g","type":"quantitative"},"y":{"field":"m","type":"quantitative"}}},
{"mark":{"type":"rule","color":"#666"},"encoding":{"x":{"field":"g","type":"quantitative"},"x2":{"datum":2},"y":{"datum":12.58,"type":"quantitative"}}},
{"mark":{"type":"rule","color":"#666"},"encoding":{"x":{"field":"g","type":"quantitative"},"y":{"datum":12.58,"type":"quantitative"},"y2":{"datum":12.11}}},
{"transform":[{"filter":"datum.g==1"}],"mark":{"type":"text","text":"p < 2.22e-16"},"encoding":{"x":{"datum":1.5,"type":"quantitative"},"y":{"datum":12.58,"type":"quantitative"}}},
{"transform":[{"filter":"datum.g==1"}],"mark":{"type":"text","fontSize":18,"baseline":"middle","dy":-20,"color":"#1a1a1a","text":"lisuride"},"encoding":{"x":{"datum":1.5,"type":"quantitative"},"y":{"datum":13.41,"type":"quantitative"}}}
]},
{"data":{"name":"b_mb"},"layer":[
{"data":{"name":"v_mb"},"transform":[{"calculate":"datum.g-datum.w","as":"a"},{"calculate":"datum.g+datum.w","as":"b"}],"mark":{"type":"area","orient":"horizontal"},"encoding":{"x":{"field":"a","type":"quantitative","scale":{"domain":[0.4,2.6],"nice":false},"axis":{"values":[1,2],"labelExpr":"datum.value==1?'non-matrisome':'matrisome'"},"title":null},"x2":{"field":"b"},"y":{"field":"y","type":"quantitative","scale":{"domain":[-5.1,7.46],"nice":false},"axis":{"values":[-2.5,0,2.5,5],"format":".1f","tickCount":10,"titleX":-45,"titleY":42,"titleBaseline":"middle","titleFontSize":16.5},"title":"Relative expression"},"detail":{"field":"g","type":"nominal"},"fill":{"condition":{"test":"datum.g==2","value":"#1b95d0"},"value":"#000"}}},
{"mark":"rule","encoding":{"x":{"field":"g","type":"quantitative"},"y":{"field":"lo","type":"quantitative"},"y2":{"field":"hi"}}},
{"mark":"bar","encoding":{"x":{"field":"g","type":"quantitative"},"y":{"field":"q1","type":"quantitative"},"y2":{"field":"q3"}}},
{"mark":{"type":"tick","orient":"horizontal"},"encoding":{"x":{"field":"g","type":"quantitative"},"y":{"field":"m","type":"quantitative"}}},
{"mark":{"type":"rule","color":"#666"},"encoding":{"x":{"field":"g","type":"quantitative"},"x2":{"datum":2},"y":{"datum":6.89,"type":"quantitative"}}},
{"mark":{"type":"rule","color":"#666"},"encoding":{"x":{"field":"g","type":"quantitative"},"y":{"datum":6.89,"type":"quantitative"},"y2":{"datum":6.57}}},
{"transform":[{"filter":"datum.g==1"}],"mark":{"type":"text","text":"p < 2.22e-16"},"encoding":{"x":{"datum":1.5,"type":"quantitative"},"y":{"datum":6.89,"type":"quantitative"}}},
{"transform":[{"filter":"datum.g==1"}],"mark":{"type":"text","fontSize":18,"baseline":"middle","dy":-20,"color":"#1a1a1a","text":"merbromin"},"encoding":{"x":{"datum":1.5,"type":"quantitative"},"y":{"datum":7.46,"type":"quantitative"}}}
]},
{"data":{"name":"b_nd"},"layer":[
{"data":{"name":"v_nd"},"transform":[{"calculate":"datum.g-datum.w","as":"a"},{"calculate":"datum.g+datum.w","as":"b"}],"mark":{"type":"area","orient":"horizontal"},"encoding":{"x":{"field":"a","type":"quantitative","scale":{"domain":[0.4,2.6],"nice":false},"axis":{"values":[1,2],"labelExpr":"datum.value==1?'non-matrisome':'matrisome'"},"title":null},"x2":{"field":"b"},"y":{"field":"y","type":"quantitative","scale":{"domain":[-4.12,8.24],"nice":false},"axis":{"values":[0,4,8],"format":"d"},"title":null},"detail":{"field":"g","type":"nominal"},"fill":{"condition":{"test":"datum.g==2","value":"#1b95d0"},"value":"#000"}}},
{"mark":"rule","encoding":{"x":{"field":"g","type":"quantitative"},"y":{"field":"lo","type":"quantitative"},"y2":{"field":"hi"}}},
{"mark":"bar","encoding":{"x":{"field":"g","type":"quantitative"},"y":{"field":"q1","type":"quantitative"},"y2":{"field":"q3"}}},
{"mark":{"type":"tick","orient":"horizontal"},"encoding":{"x":{"field":"g","type":"quantitative"},"y":{"field":"m","type":"quantitative"}}},
{"mark":{"type":"rule","color":"#666"},"encoding":{"x":{"field":"g","type":"quantitative"},"x2":{"datum":2},"y":{"datum":7.68,"type":"quantitative"}}},
{"mark":{"type":"rule","color":"#666"},"encoding":{"x":{"field":"g","type":"quantitative"},"y":{"datum":7.68,"type":"quantitative"},"y2":{"datum":7.36}}},
{"transform":[{"filter":"datum.g==1"}],"mark":{"type":"text","text":"p < 2.22e-16"},"encoding":{"x":{"datum":1.5,"type":"quantitative"},"y":{"datum":7.68,"type":"quantitative"}}},
{"transform":[{"filter":"datum.g==1"}],"mark":{"type":"text","fontSize":18,"baseline":"middle","dy":-20,"color":"#1a1a1a","text":"nadolol"},"encoding":{"x":{"datum":1.5,"type":"quantitative"},"y":{"datum":8.24,"type":"quantitative"}}}
]},
{"data":{"name":"b_pw"},"layer":[
{"data":{"name":"v_pw"},"transform":[{"calculate":"datum.g-datum.w","as":"a"},{"calculate":"datum.g+datum.w","as":"b"}],"mark":{"type":"area","orient":"horizontal"},"encoding":{"x":{"field":"a","type":"quantitative","scale":{"domain":[0.4,2.6],"nice":false},"axis":{"values":[1,2],"labelExpr":"datum.value==1?'non-matrisome':'matrisome'"},"title":null},"x2":{"field":"b"},"y":{"field":"y","type":"quantitative","scale":{"domain":[-4.07,9.3],"nice":false},"axis":{"values":[0,5],"format":"d"},"title":null},"detail":{"field":"g","type":"nominal"},"fill":{"condition":{"test":"datum.g==2","value":"#1b95d0"},"value":"#000"}}},
{"mark":"rule","encoding":{"x":{"field":"g","type":"quantitative"},"y":{"field":"lo","type":"quantitative"},"y2":{"field":"hi"}}},
{"mark":"bar","encoding":{"x":{"field":"g","type":"quantitative"},"y":{"field":"q1","type":"quantitative"},"y2":{"field":"q3"}}},
{"mark":{"type":"tick","orient":"horizontal"},"encoding":{"x":{"field":"g","type":"quantitative"},"y":{"field":"m","type":"quantitative"}}},
{"mark":{"type":"rule","color":"#666"},"encoding":{"x":{"field":"g","type":"quantitative"},"x2":{"datum":2},"y":{"datum":8.7,"type":"quantitative"}}},
{"mark":{"type":"rule","color":"#666"},"encoding":{"x":{"field":"g","type":"quantitative"},"y":{"datum":8.7,"type":"quantitative"},"y2":{"datum":8.35}}},
{"transform":[{"filter":"datum.g==1"}],"mark":{"type":"text","text":"p < 2.22e-16"},"encoding":{"x":{"datum":1.5,"type":"quantitative"},"y":{"datum":8.7,"type":"quantitative"}}},
{"transform":[{"filter":"datum.g==1"}],"mark":{"type":"text","fontSize":18,"baseline":"middle","dy":-20,"color":"#1a1a1a","text":"Prestwick.691"},"encoding":{"x":{"datum":1.5,"type":"quantitative"},"y":{"datum":9.3,"type":"quantitative"}}}
]},
{"data":{"name":"b_sz"},"layer":[
{"data":{"name":"v_sz"},"transform":[{"calculate":"datum.g-datum.w","as":"a"},{"calculate":"datum.g+datum.w","as":"b"}],"mark":{"type":"area","orient":"horizontal"},"encoding":{"x":{"field":"a","type":"quantitative","scale":{"domain":[0.4,2.6],"nice":false},"axis":{"values":[1,2],"labelExpr":"datum.value==1?'non-matrisome':'matrisome'"},"title":null},"x2":{"field":"b"},"y":{"field":"y","type":"quantitative","scale":{"domain":[-4.84,9.36],"nice":false},"axis":{"values":[0,5],"format":"d"},"title":null},"detail":{"field":"g","type":"nominal"},"fill":{"condition":{"test":"datum.g==2","value":"#1b95d0"},"value":"#000"}}},
{"mark":"rule","encoding":{"x":{"field":"g","type":"quantitative"},"y":{"field":"lo","type":"quantitative"},"y2":{"field":"hi"}}},
{"mark":"bar","encoding":{"x":{"field":"g","type":"quantitative"},"y":{"field":"q1","type":"quantitative"},"y2":{"field":"q3"}}},
{"mark":{"type":"tick","orient":"horizontal"},"encoding":{"x":{"field":"g","type":"quantitative"},"y":{"field":"m","type":"quantitative"}}},
{"mark":{"type":"rule","color":"#666"},"encoding":{"x":{"field":"g","type":"quantitative"},"x2":{"datum":2},"y":{"datum":8.72,"type":"quantitative"}}},
{"mark":{"type":"rule","color":"#666"},"encoding":{"x":{"field":"g","type":"quantitative"},"y":{"datum":8.72,"type":"quantitative"},"y2":{"datum":8.35}}},
{"transform":[{"filter":"datum.g==1"}],"mark":{"type":"text","text":"p < 2.22e-16"},"encoding":{"x":{"datum":1.5,"type":"quantitative"},"y":{"datum":8.72,"type":"quantitative"}}},
{"transform":[{"filter":"datum.g==1"}],"mark":{"type":"text","fontSize":18,"baseline":"middle","dy":-20,"color":"#1a1a1a","text":"streptozocin"},"encoding":{"x":{"datum":1.5,"type":"quantitative"},"y":{"datum":9.36,"type":"quantitative"}}}
]},
{"data":{"name":"b_sd"},"layer":[
{"data":{"name":"v_sd"},"transform":[{"calculate":"datum.g-datum.w","as":"a"},{"calculate":"datum.g+datum.w","as":"b"}],"mark":{"type":"area","orient":"horizontal"},"encoding":{"x":{"field":"a","type":"quantitative","scale":{"domain":[0.4,2.6],"nice":false},"axis":{"values":[1,2],"labelExpr":"datum.value==1?'non-matrisome':'matrisome'"},"title":null},"x2":{"field":"b"},"y":{"field":"y","type":"quantitative","scale":{"domain":[-4.2,12.65],"nice":false},"axis":{"values":[-4,0,4,8,12],"format":"d","tickCount":10},"title":null},"detail":{"field":"g","type":"nominal"},"fill":{"condition":{"test":"datum.g==2","value":"#1b95d0"},"value":"#000"}}},
{"mark":"rule","encoding":{"x":{"field":"g","type":"quantitative"},"y":{"field":"lo","type":"quantitative"},"y2":{"field":"hi"}}},
{"mark":"bar","encoding":{"x":{"field":"g","type":"quantitative"},"y":{"field":"q1","type":"quantitative"},"y2":{"field":"q3"}}},
{"mark":{"type":"tick","orient":"horizontal"},"encoding":{"x":{"field":"g","type":"quantitative"},"y":{"field":"m","type":"quantitative"}}},
{"mark":{"type":"rule","color":"#666"},"encoding":{"x":{"field":"g","type":"quantitative"},"x2":{"datum":2},"y":{"datum":11.89,"type":"quantitative"}}},
{"mark":{"type":"rule","color":"#666"},"encoding":{"x":{"field":"g","type":"quantitative"},"y":{"datum":11.89,"type":"quantitative"},"y2":{"datum":11.45}}},
{"transform":[{"filter":"datum.g==1"}],"mark":{"type":"text","text":"p < 2.22e-16"},"encoding":{"x":{"datum":1.5,"type":"quantitative"},"y":{"datum":11.89,"type":"quantitative"}}},
{"transform":[{"filter":"datum.g==1"}],"mark":{"type":"text","fontSize":18,"baseline":"middle","dy":-20,"color":"#1a1a1a","text":"sulfadimethoxine"},"encoding":{"x":{"datum":1.5,"type":"quantitative"},"y":{"datum":12.65,"type":"quantitative"}}}
]},
{"data":{"name":"b_th"},"layer":[
{"data":{"name":"v_th"},"transform":[{"calculate":"datum.g-datum.w","as":"a"},{"calculate":"datum.g+datum.w","as":"b"}],"mark":{"type":"area","orient":"horizontal"},"encoding":{"x":{"field":"a","type":"quantitative","scale":{"domain":[0.4,2.6],"nice":false},"axis":{"values":[1,2],"labelExpr":"datum.value==1?'non-matrisome':'matrisome'"},"title":null},"x2":{"field":"b"},"y":{"field":"y","type":"quantitative","scale":{"domain":[-3.76,12.76],"nice":false},"axis":{"values":[0,4,8,12],"format":"d","tickCount":10},"title":null},"detail":{"field":"g","type":"nominal"},"fill":{"condition":{"test":"datum.g==2","value":"#1b95d0"},"value":"#000"}}},
{"mark":"rule","encoding":{"x":{"field":"g","type":"quantitative"},"y":{"field":"lo","type":"quantitative"},"y2":{"field":"hi"}}},
{"mark":"bar","encoding":{"x":{"field":"g","type":"quantitative"},"y":{"field":"q1","type":"quantitative"},"y2":{"field":"q3"}}},
{"mark":{"type":"tick","orient":"horizontal"},"encoding":{"x":{"field":"g","type":"quantitative"},"y":{"field":"m","type":"quantitative"}}},
{"mark":{"type":"rule","color":"#666"},"encoding":{"x":{"field":"g","type":"quantitative"},"x2":{"datum":2},"y":{"datum":12.01,"type":"quantitative"}}},
{"mark":{"type":"rule","color":"#666"},"encoding":{"x":{"field":"g","type":"quantitative"},"y":{"datum":12.01,"type":"quantitative"},"y2":{"datum":11.59}}},
{"transform":[{"filter":"datum.g==1"}],"mark":{"type":"text","text":"p < 2.22e-16"},"encoding":{"x":{"datum":1.5,"type":"quantitative"},"y":{"datum":12.01,"type":"quantitative"}}},
{"transform":[{"filter":"datum.g==1"}],"mark":{"type":"text","fontSize":18,"baseline":"middle","dy":-20,"color":"#1a1a1a","text":"thiamphenicol"},"encoding":{"x":{"datum":1.5,"type":"quantitative"},"y":{"datum":12.76,"type":"quantitative"}}}
]},
{"data":{"name":"b_tb"},"layer":[
{"data":{"name":"v_tb"},"transform":[{"calculate":"datum.g-datum.w","as":"a"},{"calculate":"datum.g+datum.w","as":"b"}],"mark":{"type":"area","orient":"horizontal"},"encoding":{"x":{"field":"a","type":"quantitative","scale":{"domain":[0.4,2.6],"nice":false},"axis":{"values":[1,2],"labelExpr":"datum.value==1?'non-matrisome':'matrisome'"},"title":null},"x2":{"field":"b"},"y":{"field":"y","type":"quantitative","scale":{"domain":[-3.88,7.69],"nice":false},"axis":{"values":[-2.5,0,2.5,5,7.5],"format":".1f","tickCount":10},"title":null},"detail":{"field":"g","type":"nominal"},"fill":{"condition":{"test":"datum.g==2","value":"#1b95d0"},"value":"#000"}}},
{"mark":"rule","encoding":{"x":{"field":"g","type":"quantitative"},"y":{"field":"lo","type":"quantitative"},"y2":{"field":"hi"}}},
{"mark":"bar","encoding":{"x":{"field":"g","type":"quantitative"},"y":{"field":"q1","type":"quantitative"},"y2":{"field":"q3"}}},
{"mark":{"type":"tick","orient":"horizontal"},"encoding":{"x":{"field":"g","type":"quantitative"},"y":{"field":"m","type":"quantitative"}}},
{"mark":{"type":"rule","color":"#666"},"encoding":{"x":{"field":"g","type":"quantitative"},"x2":{"datum":2},"y":{"datum":7.17,"type":"quantitative"}}},
{"mark":{"type":"rule","color":"#666"},"encoding":{"x":{"field":"g","type":"quantitative"},"y":{"datum":7.17,"type":"quantitative"},"y2":{"datum":6.87}}},
{"transform":[{"filter":"datum.g==1"}],"mark":{"type":"text","text":"p < 2.22e-16"},"encoding":{"x":{"datum":1.5,"type":"quantitative"},"y":{"datum":7.17,"type":"quantitative"}}},
{"transform":[{"filter":"datum.g==1"}],"mark":{"type":"text","fontSize":18,"baseline":"middle","dy":-20,"color":"#1a1a1a","text":"trimethobenzamide"},"encoding":{"x":{"datum":1.5,"type":"quantitative"},"y":{"datum":7.69,"type":"quantitative"}}}
]},
{"data":{"name":"b_vi"},"layer":[
{"data":{"name":"v_vi"},"transform":[{"calculate":"datum.g-datum.w","as":"a"},{"calculate":"datum.g+datum.w","as":"b"}],"mark":{"type":"area","orient":"horizontal"},"encoding":{"x":{"field":"a","type":"quantitative","scale":{"domain":[0.4,2.6],"nice":false},"axis":{"values":[1,2],"labelExpr":"datum.value==1?'non-matrisome':'matrisome'"},"title":null},"x2":{"field":"b"},"y":{"field":"y","type":"quantitative","scale":{"domain":[-4.16,9.74],"nice":false},"axis":{"values":[0,5],"format":"d"},"title":null},"detail":{"field":"g","type":"nominal"},"fill":{"condition":{"test":"datum.g==2","value":"#1b95d0"},"value":"#000"}}},
{"mark":"rule","encoding":{"x":{"field":"g","type":"quantitative"},"y":{"field":"lo","type":"quantitative"},"y2":{"field":"hi"}}},
{"mark":"bar","encoding":{"x":{"field":"g","type":"quantitative"},"y":{"field":"q1","type":"quantitative"},"y2":{"field":"q3"}}},
{"mark":{"type":"tick","orient":"horizontal"},"encoding":{"x":{"field":"g","type":"quantitative"},"y":{"field":"m","type":"quantitative"}}},
{"mark":{"type":"rule","color":"#666"},"encoding":{"x":{"field":"g","type":"quantitative"},"x2":{"datum":2},"y":{"datum":9.11,"type":"quantitative"}}},
{"mark":{"type":"rule","color":"#666"},"encoding":{"x":{"field":"g","type":"quantitative"},"y":{"datum":9.11,"type":"quantitative"},"y2":{"datum":8.75}}},
{"transform":[{"filter":"datum.g==1"}],"mark":{"type":"text","text":"p < 2.22e-16"},"encoding":{"x":{"datum":1.5,"type":"quantitative"},"y":{"datum":9.11,"type":"quantitative"}}},
{"transform":[{"filter":"datum.g==1"}],"mark":{"type":"text","fontSize":18,"baseline":"middle","dy":-20,"color":"#1a1a1a","text":"viomycin"},"encoding":{"x":{"datum":1.5,"type":"quantitative"},"y":{"datum":9.74,"type":"quantitative"}}}
]}
],"columns":4,"spacing":{"row":75,"column":64},"bounds":"flush"}
]}
]
}
